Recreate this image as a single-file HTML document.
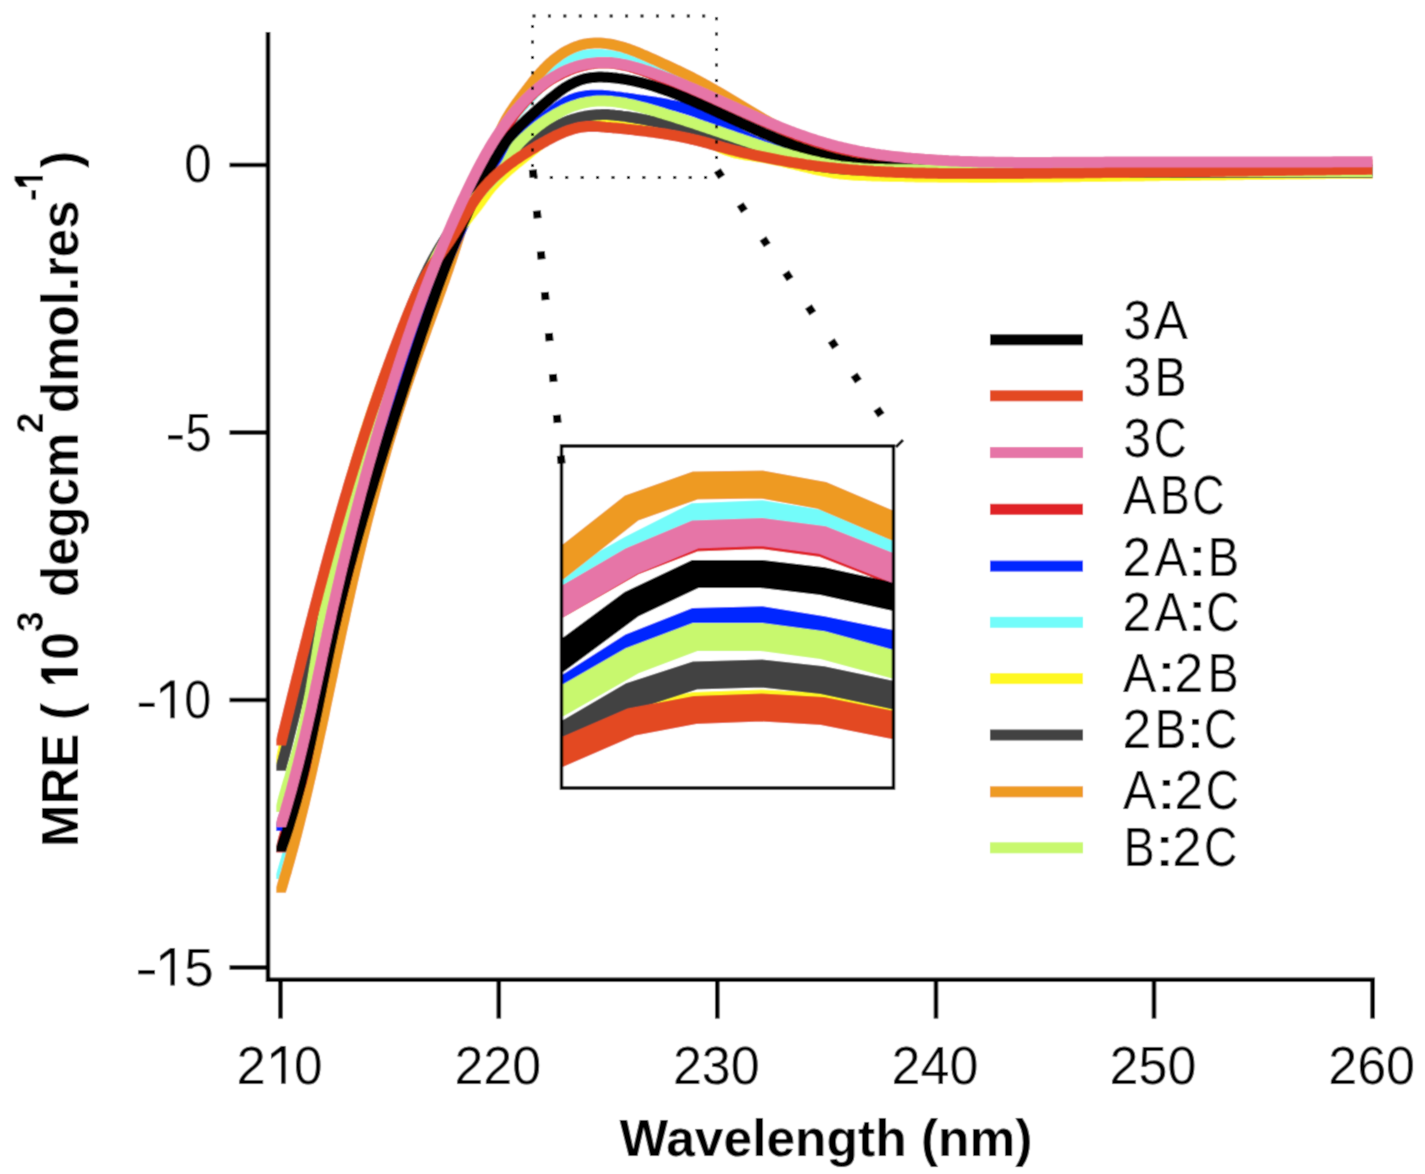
<!DOCTYPE html>
<html><head><meta charset="utf-8"><title>MRE chart</title>
<style>html,body{margin:0;padding:0;background:#fff;}svg{display:block;}text{font-family:"Liberation Sans", sans-serif;}</style>
</head><body>
<svg width="1425" height="1174" viewBox="0 0 1425 1174">
<defs><filter id="soft" filterUnits="userSpaceOnUse" x="0" y="0" width="1425" height="1174"><feConvolveMatrix order="3" kernelMatrix="0.028 0.111 0.028 0.111 0.446 0.111 0.028 0.111 0.028" edgeMode="duplicate" preserveAlpha="true"/></filter><clipPath id="ic"><rect x="563" y="447.5" width="329" height="339"/></clipPath>
<clipPath id="pc"><rect x="270" y="0" width="1110" height="978"/></clipPath></defs>
<g filter="url(#soft)">
<rect width="1425" height="1174" fill="#fff"/>

<defs><clipPath id="c0"><rect x="276.3" y="0" width="1097.2" height="879"/></clipPath><clipPath id="c1"><rect x="276.3" y="0" width="1097.2" height="892.7"/></clipPath><clipPath id="c2"><rect x="276.3" y="0" width="1097.2" height="852.4"/></clipPath><clipPath id="c3"><rect x="276.3" y="0" width="1097.2" height="831"/></clipPath><clipPath id="c4"><rect x="276.3" y="0" width="1097.2" height="764"/></clipPath><clipPath id="c5"><rect x="276.3" y="0" width="1097.2" height="770.7"/></clipPath><clipPath id="c6"><rect x="276.3" y="0" width="1097.2" height="851.8"/></clipPath><clipPath id="c7"><rect x="276.3" y="0" width="1097.2" height="812"/></clipPath><clipPath id="c8"><rect x="276.3" y="0" width="1097.2" height="745.5"/></clipPath><clipPath id="c9"><rect x="276.3" y="0" width="1097.2" height="827"/></clipPath></defs>
<g fill="none" stroke-width="11" stroke-linejoin="round" stroke-linecap="butt">
<path clip-path="url(#c0)" stroke="#73FCFA" d="M278.2,885.8L280.5,878.2L281.3,875.4L282.2,872.7L283.0,870.0L283.8,867.2L284.6,864.5L285.4,861.8L286.3,859.0L287.0,856.3L287.8,853.5L288.6,850.8L289.4,848.1L290.2,845.3L290.9,842.6L291.7,839.8L292.5,837.1L293.2,834.3L294.0,831.6L294.7,828.8L295.4,826.1L296.2,823.3L296.9,820.6L297.6,817.8L298.3,815.1L299.0,812.3L299.8,809.6L300.5,806.8L301.2,804.1L301.8,801.3L302.5,798.5L303.2,795.8L303.9,793.0L304.6,790.2L305.3,787.5L305.9,784.7L306.6,782.0L307.3,779.2L307.9,776.4L308.6,773.7L309.2,770.9L309.9,768.1L310.5,765.3L311.2,762.6L311.8,759.8L312.4,757.0L313.1,754.3L313.7,751.5L314.3,748.7L315.0,745.9L315.6,743.2L316.2,740.4L316.8,737.6L317.5,734.8L318.1,732.1L318.7,729.3L319.3,726.5L319.9,723.7L320.5,721.0L321.1,718.2L321.8,715.4L322.4,712.6L323.0,709.8L323.6,707.1L324.2,704.3L324.8,701.5L325.4,698.7L326.0,695.9L326.6,693.2L327.2,690.4L327.8,687.6L328.4,684.8L329.0,682.0L329.6,679.3L330.2,676.5L330.8,673.7L331.4,670.9L332.0,668.1L332.6,665.3L333.2,662.6L333.8,659.8L334.4,657.0L335.0,654.2L335.6,651.4L336.2,648.6L336.8,645.9L337.4,643.1L338.0,640.3L338.6,637.5L339.2,634.7L339.8,632.0L340.4,629.2L341.0,626.4L341.7,623.6L342.3,620.8L342.9,618.1L343.5,615.3L344.1,612.5L344.8,609.7L345.4,606.9L346.0,604.2L346.6,601.4L347.3,598.6L347.9,595.8L348.6,593.1L349.2,590.3L349.8,587.5L350.5,584.7L351.1,582.0L351.8,579.2L352.4,576.4L353.1,573.6L353.7,570.9L354.4,568.1L355.0,565.3L355.7,562.5L356.4,559.8L357.0,557.0L357.7,554.2L358.4,551.5L359.1,548.7L359.7,545.9L360.4,543.2L361.1,540.4L361.8,537.6L362.5,534.9L363.2,532.1L363.8,529.3L364.5,526.6L365.2,523.8L365.9,521.0L366.6,518.3L367.3,515.5L368.1,512.8L368.8,510.0L369.5,507.2L370.2,504.5L370.9,501.7L371.6,499.0L372.4,496.2L373.1,493.5L373.8,490.7L374.6,487.9L375.3,485.2L376.0,482.4L376.8,479.7L377.5,476.9L378.3,474.2L379.0,471.4L379.8,468.7L380.5,466.0L381.3,463.2L382.1,460.5L382.8,457.7L383.6,455.0L384.4,452.2L385.2,449.5L386.0,446.8L386.7,444.0L387.5,441.3L388.3,438.6L389.1,435.8L389.9,433.1L390.7,430.4L391.5,427.6L392.3,424.9L393.1,422.2L394.0,419.4L394.8,416.7L395.6,414.0L396.4,411.3L397.3,408.5L398.1,405.8L398.9,403.1L399.8,400.4L400.6,397.7L401.5,395.0L402.3,392.2L403.2,389.5L404.0,386.8L404.9,384.1L405.8,381.4L406.6,378.7L407.5,376.0L408.4,373.3L409.3,370.6L410.2,367.9L411.1,365.2L411.9,362.5L412.8,359.8L413.7,357.1L414.7,354.4L415.6,351.7L416.5,349.0L417.4,346.3L418.3,343.6L419.3,340.9L420.2,338.2L421.1,335.5L422.1,332.9L423.0,330.2L424.0,327.5L424.9,324.8L425.9,322.2L426.8,319.5L427.8,316.8L428.8,314.1L429.7,311.5L430.7,308.8L431.7,306.1L432.7,303.5L433.7,300.8L434.7,298.1L435.6,295.5L436.6,292.8L437.6,290.1L438.6,287.5L439.6,284.8L440.6,282.1L441.6,279.5L442.7,276.8L443.7,274.2L444.7,271.5L445.7,268.8L446.7,266.2L447.7,263.5L448.7,260.9L449.8,258.2L450.8,255.6L451.8,252.9L452.8,250.2L453.8,247.6L454.9,244.9L455.9,242.3L456.9,239.6L457.9,237.0L459.0,234.3L460.0,231.6L461.0,229.0L462.1,226.3L463.1,223.7L464.1,221.0L465.1,218.3L466.1,215.7L467.2,213.0L468.2,210.4L469.3,207.7L470.3,205.1L471.4,202.4L472.5,199.8L473.6,197.2L474.7,194.6L475.9,192.0L477.1,189.4L478.3,186.8L479.5,184.3L480.8,181.7L482.2,179.2L483.5,176.7L484.9,174.2L486.2,171.7L487.5,169.2L488.6,166.6L489.7,164.0L490.6,161.3L491.5,158.6L492.2,155.9L493.0,153.2L493.7,150.4L494.5,147.7L495.3,145.0L496.2,142.3L497.2,139.7L498.4,137.1L499.8,134.6L501.2,132.2L502.7,129.8L504.4,127.5L506.1,125.2L507.8,122.9L509.6,120.7L511.5,118.5L513.3,116.4L515.2,114.2L517.1,112.1L518.9,110.0L520.9,107.9L522.8,105.8L524.7,103.7L526.6,101.6L528.6,99.6L530.5,97.5L532.5,95.4L534.4,93.3L536.4,91.2L538.3,89.1L540.3,86.9L542.2,84.8L544.1,82.6L546.1,80.4L548.0,78.2L549.9,76.0L551.9,73.9L553.9,71.8L555.9,69.8L558.0,67.9L560.1,66.1L562.3,64.3L564.6,62.8L566.9,61.3L569.3,60.0L571.8,58.9L574.3,57.9L576.9,57.0L579.6,56.3L582.3,55.7L585.1,55.2L587.8,54.9L590.7,54.6L593.5,54.5L596.4,54.4L599.3,54.5L602.2,54.6L605.1,54.9L608.0,55.2L610.9,55.6L613.8,56.1L616.7,56.7L619.6,57.3L622.5,58.0L625.3,58.8L628.1,59.6L630.9,60.5L633.6,61.4L636.3,62.3L639.0,63.3L641.6,64.3L644.2,65.4L646.8,66.5L649.4,67.6L651.9,68.7L654.5,69.9L657.0,71.0L659.5,72.2L662.1,73.4L664.6,74.5L667.1,75.7L669.7,76.8L672.2,78.0L674.8,79.1L677.4,80.3L679.9,81.4L682.6,82.5L685.2,83.6L687.8,84.7L690.4,85.8L693.0,86.9L695.6,88.0L698.3,89.2L700.9,90.3L703.5,91.5L706.1,92.7L708.7,93.9L711.2,95.1L713.8,96.4L716.4,97.6L718.9,98.9L721.5,100.2L724.1,101.5L726.6,102.8L729.2,104.1L731.7,105.4L734.3,106.8L736.8,108.1L739.3,109.4L741.9,110.8L744.4,112.1L747.0,113.4L749.5,114.8L752.0,116.1L754.6,117.5L757.1,118.8L759.7,120.1L762.2,121.4L764.8,122.7L767.3,124.0L769.9,125.3L772.4,126.6L775.0,127.9L777.5,129.1L780.1,130.3L782.7,131.6L785.3,132.8L787.9,133.9L790.5,135.1L793.1,136.3L795.7,137.4L798.3,138.5L800.9,139.6L803.6,140.6L806.2,141.6L808.9,142.6L811.5,143.6L814.2,144.5L816.9,145.5L819.6,146.4L822.2,147.2L825.0,148.1L827.7,148.9L830.4,149.7L833.1,150.5L835.8,151.2L838.6,151.9L841.3,152.7L844.1,153.3L846.8,154.0L849.6,154.7L852.4,155.3L855.2,155.9L857.9,156.5L860.7,157.1L863.5,157.6L866.3,158.1L869.1,158.7L871.9,159.2L874.7,159.6L877.5,160.1L880.3,160.6L883.2,161.0L886.0,161.4L888.8,161.8L891.6,162.2L894.5,162.6L897.3,163.0L900.1,163.3L902.9,163.7L905.8,164.0L908.6,164.3L911.4,164.6L914.3,164.9L917.1,165.2L920.0,165.5L922.8,165.8L925.6,166.0L928.5,166.3L931.3,166.5L934.1,166.7L937.0,167.0L939.8,167.2L942.7,167.4L945.5,167.6L948.3,167.8L951.2,168.0L954.0,168.2L956.9,168.3L959.7,168.5L962.5,168.6L965.4,168.8L968.2,168.9L971.1,169.1L973.9,169.2L976.7,169.3L979.6,169.5L982.4,169.6L985.3,169.7L988.1,169.8L991.0,169.9L993.8,170.0L996.6,170.1L999.5,170.2L1002.3,170.3L1005.2,170.3L1008.0,170.4L1010.9,170.5L1013.7,170.5L1016.6,170.6L1019.4,170.7L1022.3,170.7L1025.1,170.8L1028.0,170.8L1030.8,170.9L1033.6,170.9L1036.5,171.0L1039.3,171.0L1042.2,171.0L1045.0,171.1L1047.9,171.1L1050.7,171.1L1053.6,171.1L1056.4,171.2L1059.3,171.2L1062.1,171.2L1065.0,171.2L1067.8,171.2L1070.7,171.2L1073.5,171.2L1076.4,171.3L1079.2,171.3L1082.1,171.3L1084.9,171.3L1087.8,171.3L1090.6,171.3L1093.5,171.3L1096.3,171.3L1099.1,171.3L1102.0,171.3L1104.8,171.3L1107.7,171.3L1110.5,171.3L1113.4,171.3L1116.2,171.3L1119.1,171.3L1121.9,171.3L1124.8,171.3L1127.6,171.3L1130.5,171.3L1133.3,171.3L1136.2,171.3L1139.0,171.3L1141.9,171.3L1144.7,171.3L1147.6,171.3L1150.4,171.3L1153.3,171.3L1156.1,171.3L1159.0,171.3L1161.8,171.3L1164.6,171.3L1167.5,171.3L1170.3,171.4L1173.2,171.4L1176.0,171.4L1178.9,171.4L1181.7,171.4L1184.6,171.4L1187.4,171.4L1190.3,171.4L1193.1,171.4L1196.0,171.4L1198.8,171.4L1201.7,171.4L1204.5,171.4L1207.4,171.4L1210.2,171.4L1213.0,171.4L1215.9,171.4L1218.7,171.4L1221.6,171.4L1224.4,171.4L1227.3,171.4L1230.1,171.4L1233.0,171.4L1235.8,171.4L1238.7,171.4L1241.5,171.4L1244.4,171.4L1247.2,171.4L1250.1,171.4L1252.9,171.4L1255.8,171.4L1258.6,171.4L1261.4,171.4L1264.3,171.4L1267.1,171.4L1270.0,171.4L1272.8,171.4L1275.7,171.5L1278.5,171.5L1281.4,171.5L1284.2,171.5L1287.1,171.5L1289.9,171.5L1292.8,171.5L1295.6,171.5L1298.5,171.5L1301.3,171.5L1304.2,171.5L1307.0,171.5L1309.9,171.5L1312.7,171.5L1315.5,171.5L1318.4,171.5L1321.2,171.5L1324.1,171.5L1326.9,171.5L1329.8,171.5L1332.6,171.5L1335.5,171.4L1338.3,171.4L1341.2,171.4L1344.0,171.4L1346.9,171.4L1349.7,171.4L1352.6,171.4L1355.4,171.4L1358.3,171.4L1361.1,171.4L1364.0,171.4L1366.8,171.4L1369.7,171.4L1372.5,171.4"/>
<path clip-path="url(#c1)" stroke="#EE9A22" d="M278.2,899.2L280.5,891.5L281.3,888.8L282.2,886.0L283.0,883.2L283.8,880.4L284.6,877.6L285.4,874.9L286.3,872.1L287.0,869.3L287.8,866.5L288.6,863.7L289.4,860.9L290.2,858.1L290.9,855.4L291.7,852.6L292.5,849.8L293.2,847.0L294.0,844.2L294.7,841.4L295.4,838.6L296.2,835.8L296.9,833.0L297.6,830.2L298.3,827.4L299.0,824.6L299.7,821.8L300.4,819.0L301.1,816.2L301.8,813.4L302.5,810.6L303.2,807.7L303.9,804.9L304.6,802.1L305.2,799.3L305.9,796.5L306.6,793.7L307.2,790.9L307.9,788.1L308.5,785.2L309.2,782.4L309.8,779.6L310.5,776.8L311.1,774.0L311.8,771.2L312.4,768.3L313.0,765.5L313.7,762.7L314.3,759.9L314.9,757.1L315.5,754.2L316.2,751.4L316.8,748.6L317.4,745.8L318.0,742.9L318.6,740.1L319.2,737.3L319.8,734.5L320.4,731.6L321.1,728.8L321.7,726.0L322.3,723.2L322.9,720.3L323.5,717.5L324.1,714.7L324.7,711.8L325.2,709.0L325.8,706.2L326.4,703.4L327.0,700.5L327.6,697.7L328.2,694.9L328.8,692.0L329.4,689.2L330.0,686.4L330.6,683.5L331.2,680.7L331.8,677.9L332.4,675.1L333.0,672.2L333.5,669.4L334.1,666.6L334.7,663.7L335.3,660.9L335.9,658.1L336.5,655.2L337.1,652.4L337.7,649.6L338.3,646.8L338.9,643.9L339.5,641.1L340.1,638.3L340.7,635.4L341.3,632.6L341.9,629.8L342.5,627.0L343.1,624.1L343.8,621.3L344.4,618.5L345.0,615.6L345.6,612.8L346.2,610.0L346.8,607.2L347.5,604.3L348.1,601.5L348.7,598.7L349.4,595.9L350.0,593.0L350.6,590.2L351.3,587.4L351.9,584.6L352.5,581.8L353.2,578.9L353.8,576.1L354.5,573.3L355.1,570.5L355.8,567.7L356.5,564.9L357.1,562.0L357.8,559.2L358.5,556.4L359.1,553.6L359.8,550.8L360.5,548.0L361.2,545.2L361.8,542.3L362.5,539.5L363.2,536.7L363.9,533.9L364.6,531.1L365.3,528.3L366.0,525.5L366.7,522.7L367.4,519.9L368.1,517.1L368.9,514.3L369.6,511.5L370.3,508.7L371.0,505.9L371.8,503.1L372.5,500.3L373.2,497.5L374.0,494.7L374.7,491.9L375.5,489.1L376.2,486.3L377.0,483.5L377.7,480.7L378.5,477.9L379.3,475.2L380.0,472.4L380.8,469.6L381.6,466.8L382.4,464.0L383.2,461.2L384.0,458.5L384.8,455.7L385.6,452.9L386.4,450.1L387.2,447.4L388.0,444.6L388.8,441.8L389.7,439.0L390.5,436.3L391.3,433.5L392.2,430.7L393.0,428.0L393.9,425.2L394.7,422.5L395.6,419.7L396.5,416.9L397.3,414.2L398.2,411.4L399.1,408.7L400.0,405.9L400.9,403.2L401.7,400.4L402.6,397.7L403.6,394.9L404.5,392.2L405.4,389.4L406.3,386.7L407.2,384.0L408.2,381.2L409.1,378.5L410.0,375.8L411.0,373.0L411.9,370.3L412.9,367.6L413.9,364.8L414.8,362.1L415.8,359.4L416.8,356.7L417.8,353.9L418.7,351.2L419.7,348.5L420.7,345.8L421.7,343.1L422.7,340.3L423.7,337.6L424.7,334.9L425.7,332.2L426.6,329.5L427.6,326.7L428.6,324.0L429.6,321.3L430.6,318.6L431.6,315.9L432.6,313.2L433.6,310.4L434.6,307.7L435.6,305.0L436.6,302.3L437.6,299.6L438.5,296.8L439.5,294.1L440.5,291.4L441.5,288.7L442.4,285.9L443.4,283.2L444.4,280.5L445.3,277.8L446.3,275.0L447.2,272.3L448.2,269.6L449.1,266.8L450.0,264.1L451.0,261.3L451.9,258.6L452.8,255.8L453.7,253.1L454.6,250.3L455.5,247.6L456.4,244.8L457.2,242.1L458.1,239.3L459.0,236.6L459.8,233.8L460.7,231.0L461.5,228.3L462.3,225.5L463.1,222.7L463.9,219.9L464.7,217.1L465.5,214.4L466.4,211.6L467.2,208.8L468.0,206.1L468.9,203.3L469.8,200.6L470.8,197.8L471.7,195.1L472.8,192.5L473.9,189.8L475.0,187.1L476.2,184.5L477.5,181.9L478.8,179.3L480.1,176.8L481.4,174.2L482.8,171.6L484.1,169.1L485.4,166.5L486.6,163.9L487.9,161.2L489.0,158.6L490.2,155.9L491.3,153.2L492.4,150.5L493.5,147.9L494.5,145.2L495.6,142.5L496.7,139.8L497.8,137.1L498.9,134.5L500.0,131.8L501.2,129.2L502.4,126.6L503.7,124.0L505.0,121.5L506.3,119.0L507.8,116.5L509.3,114.1L510.8,111.6L512.4,109.3L514.0,106.9L515.7,104.5L517.3,102.2L519.0,99.9L520.8,97.6L522.5,95.3L524.3,93.0L526.0,90.7L527.8,88.4L529.5,86.1L531.3,83.8L533.1,81.5L534.9,79.3L536.7,77.0L538.6,74.8L540.5,72.6L542.5,70.5L544.5,68.3L546.5,66.3L548.6,64.3L550.7,62.3L552.9,60.4L555.2,58.6L557.5,56.8L559.8,55.1L562.2,53.5L564.6,52.0L567.1,50.6L569.7,49.3L572.2,48.1L574.9,47.0L577.5,46.1L580.2,45.2L583.0,44.5L585.8,43.9L588.7,43.5L591.6,43.2L594.5,43.1L597.4,43.0L600.4,43.1L603.3,43.3L606.3,43.6L609.2,44.0L612.1,44.5L614.9,45.1L617.8,45.8L620.6,46.5L623.4,47.3L626.1,48.2L628.9,49.1L631.6,50.1L634.3,51.2L637.0,52.2L639.7,53.3L642.4,54.5L645.1,55.6L647.7,56.8L650.4,58.0L653.0,59.1L655.7,60.3L658.3,61.5L660.9,62.7L663.5,63.9L666.1,65.1L668.7,66.3L671.3,67.5L673.9,68.7L676.5,69.9L679.1,71.1L681.7,72.4L684.2,73.6L686.8,74.9L689.4,76.2L691.9,77.5L694.5,78.8L697.0,80.1L699.5,81.5L702.1,82.8L704.6,84.2L707.1,85.6L709.6,87.0L712.2,88.5L714.7,89.9L717.2,91.4L719.7,92.8L722.2,94.3L724.7,95.8L727.2,97.3L729.7,98.8L732.2,100.3L734.7,101.8L737.2,103.3L739.7,104.8L742.2,106.3L744.7,107.8L747.2,109.3L749.7,110.8L752.2,112.3L754.7,113.8L757.2,115.3L759.8,116.8L762.3,118.3L764.8,119.7L767.4,121.1L769.9,122.6L772.4,124.0L775.0,125.4L777.6,126.8L780.1,128.1L782.7,129.5L785.3,130.8L787.9,132.1L790.5,133.3L793.1,134.6L795.7,135.8L798.3,137.0L801.0,138.2L803.6,139.3L806.3,140.4L809.0,141.5L811.6,142.5L814.3,143.5L817.0,144.5L819.8,145.5L822.5,146.4L825.2,147.3L828.0,148.2L830.7,149.0L833.5,149.9L836.2,150.7L839.0,151.4L841.8,152.2L844.6,152.9L847.4,153.6L850.2,154.3L853.0,155.0L855.8,155.6L858.6,156.3L861.5,156.9L864.3,157.4L867.1,158.0L870.0,158.6L872.8,159.1L875.7,159.6L878.5,160.1L881.4,160.6L884.2,161.1L887.1,161.5L889.9,162.0L892.8,162.4L895.7,162.8L898.5,163.2L901.4,163.6L904.3,164.0L907.1,164.4L910.0,164.8L912.9,165.1L915.8,165.4L918.6,165.8L921.5,166.1L924.4,166.4L927.3,166.7L930.1,167.0L933.0,167.3L935.9,167.5L938.8,167.8L941.7,168.0L944.5,168.3L947.4,168.5L950.3,168.7L953.2,168.9L956.1,169.1L959.0,169.3L961.9,169.5L964.7,169.7L967.6,169.9L970.5,170.0L973.4,170.2L976.3,170.3L979.2,170.4L982.1,170.6L984.9,170.7L987.8,170.8L990.7,170.9L993.6,171.0L996.5,171.1L999.4,171.2L1002.3,171.3L1005.2,171.4L1008.1,171.5L1011.0,171.5L1013.8,171.6L1016.7,171.7L1019.6,171.7L1022.5,171.8L1025.4,171.8L1028.3,171.9L1031.2,171.9L1034.1,171.9L1037.0,172.0L1039.9,172.0L1042.8,172.0L1045.7,172.1L1048.5,172.1L1051.4,172.1L1054.3,172.1L1057.2,172.1L1060.1,172.2L1063.0,172.2L1065.9,172.2L1068.8,172.2L1071.7,172.2L1074.6,172.2L1077.5,172.2L1080.4,172.2L1083.3,172.2L1086.2,172.2L1089.0,172.2L1091.9,172.2L1094.8,172.2L1097.7,172.3L1100.6,172.3L1103.5,172.3L1106.4,172.3L1109.3,172.3L1112.2,172.3L1115.1,172.3L1118.0,172.3L1120.9,172.3L1123.8,172.3L1126.7,172.3L1129.5,172.3L1132.4,172.4L1135.3,172.4L1138.2,172.4L1141.1,172.4L1144.0,172.4L1146.9,172.4L1149.8,172.4L1152.7,172.4L1155.6,172.4L1158.5,172.5L1161.4,172.5L1164.3,172.5L1167.1,172.5L1170.0,172.5L1172.9,172.5L1175.8,172.5L1178.7,172.5L1181.6,172.6L1184.5,172.6L1187.4,172.6L1190.3,172.6L1193.2,172.6L1196.1,172.6L1199.0,172.6L1201.9,172.6L1204.7,172.6L1207.6,172.7L1210.5,172.7L1213.4,172.7L1216.3,172.7L1219.2,172.7L1222.1,172.7L1225.0,172.7L1227.9,172.7L1230.8,172.8L1233.7,172.8L1236.6,172.8L1239.5,172.8L1242.3,172.8L1245.2,172.8L1248.1,172.8L1251.0,172.8L1253.9,172.8L1256.8,172.9L1259.7,172.9L1262.6,172.9L1265.5,172.9L1268.4,172.9L1271.3,172.9L1274.2,172.9L1277.0,172.9L1279.9,172.9L1282.8,172.9L1285.7,172.9L1288.6,173.0L1291.5,173.0L1294.4,173.0L1297.3,173.0L1300.2,173.0L1303.1,173.0L1306.0,173.0L1308.9,173.0L1311.8,173.0L1314.6,173.0L1317.5,173.0L1320.4,173.0L1323.3,173.0L1326.2,173.0L1329.1,173.0L1332.0,173.0L1334.9,173.0L1337.8,173.0L1340.7,173.0L1343.6,173.0L1346.5,173.0L1349.4,173.0L1352.3,173.0L1355.1,173.0L1358.0,173.0L1360.9,173.0L1363.8,173.0L1366.7,173.0L1369.6,173.0L1372.5,173.0"/>
<path clip-path="url(#c2)" stroke="#E02327" d="M278.7,859.2L280.5,851.4L281.1,848.7L281.7,846.0L282.4,843.3L283.1,840.6L283.8,837.9L284.5,835.2L285.3,832.5L286.1,829.9L286.9,827.2L287.8,824.5L288.6,821.9L289.5,819.2L290.4,816.6L291.3,813.9L292.2,811.2L293.0,808.6L293.9,805.9L294.8,803.3L295.7,800.6L296.6,798.0L297.4,795.3L298.3,792.6L299.1,790.0L299.9,787.3L300.7,784.6L301.5,782.0L302.2,779.3L302.9,776.6L303.6,773.9L304.2,771.2L304.9,768.5L305.5,765.7L306.0,763.0L306.6,760.3L307.1,757.6L307.7,754.9L308.2,752.1L308.7,749.4L309.2,746.7L309.7,743.9L310.2,741.2L310.7,738.4L311.2,735.7L311.8,733.0L312.3,730.2L312.8,727.5L313.3,724.8L313.8,722.0L314.4,719.3L314.9,716.6L315.4,713.9L316.0,711.1L316.5,708.4L317.1,705.7L317.6,702.9L318.2,700.2L318.7,697.5L319.3,694.8L319.9,692.0L320.4,689.3L321.0,686.6L321.6,683.8L322.1,681.1L322.7,678.4L323.3,675.7L323.9,673.0L324.5,670.2L325.1,667.5L325.7,664.8L326.3,662.1L326.9,659.3L327.5,656.6L328.1,653.9L328.7,651.2L329.3,648.5L329.9,645.8L330.5,643.0L331.1,640.3L331.8,637.6L332.4,634.9L333.0,632.2L333.6,629.5L334.3,626.7L334.9,624.0L335.6,621.3L336.2,618.6L336.9,615.9L337.5,613.2L338.2,610.5L338.8,607.8L339.5,605.1L340.1,602.3L340.8,599.6L341.5,596.9L342.1,594.2L342.8,591.5L343.5,588.8L344.1,586.1L344.8,583.4L345.5,580.7L346.2,578.0L346.9,575.3L347.6,572.6L348.3,569.9L348.9,567.2L349.6,564.5L350.3,561.8L351.0,559.1L351.7,556.4L352.5,553.7L353.2,551.0L353.9,548.3L354.6,545.6L355.3,542.9L356.0,540.2L356.7,537.5L357.5,534.8L358.2,532.1L358.9,529.4L359.6,526.7L360.4,524.1L361.1,521.4L361.8,518.7L362.6,516.0L363.3,513.3L364.1,510.6L364.8,507.9L365.6,505.2L366.3,502.5L367.1,499.9L367.8,497.2L368.6,494.5L369.3,491.8L370.1,489.1L370.9,486.4L371.6,483.8L372.4,481.1L373.2,478.4L373.9,475.7L374.7,473.0L375.5,470.4L376.3,467.7L377.0,465.0L377.8,462.3L378.6,459.6L379.4,457.0L380.2,454.3L381.0,451.6L381.8,449.0L382.5,446.3L383.3,443.6L384.1,440.9L384.9,438.3L385.7,435.6L386.5,432.9L387.3,430.3L388.1,427.6L388.9,424.9L389.8,422.3L390.6,419.6L391.4,416.9L392.2,414.3L393.0,411.6L393.8,408.9L394.6,406.3L395.5,403.6L396.3,400.9L397.1,398.3L397.9,395.6L398.8,393.0L399.6,390.3L400.4,387.7L401.2,385.0L402.1,382.3L402.9,379.7L403.7,377.0L404.6,374.4L405.4,371.7L406.3,369.1L407.1,366.4L408.0,363.8L408.8,361.1L409.6,358.5L410.5,355.8L411.4,353.2L412.2,350.5L413.1,347.9L413.9,345.2L414.8,342.6L415.7,339.9L416.5,337.3L417.4,334.7L418.3,332.0L419.1,329.4L420.0,326.7L420.9,324.1L421.8,321.5L422.7,318.8L423.6,316.2L424.5,313.6L425.4,310.9L426.3,308.3L427.2,305.7L428.1,303.1L429.0,300.4L429.9,297.8L430.9,295.2L431.8,292.6L432.7,290.0L433.7,287.3L434.6,284.7L435.5,282.1L436.5,279.5L437.4,276.9L438.4,274.3L439.4,271.7L440.3,269.1L441.3,266.5L442.3,263.8L443.3,261.2L444.3,258.6L445.3,256.0L446.3,253.4L447.3,250.9L448.3,248.3L449.3,245.7L450.3,243.1L451.4,240.5L452.4,237.9L453.4,235.3L454.5,232.7L455.5,230.2L456.6,227.6L457.7,225.0L458.7,222.4L459.8,219.9L460.9,217.3L462.0,214.7L463.1,212.2L464.2,209.6L465.3,207.0L466.4,204.5L467.6,201.9L468.7,199.4L469.8,196.8L471.0,194.3L472.2,191.7L473.3,189.2L474.5,186.6L475.7,184.1L476.9,181.5L478.1,179.0L479.3,176.5L480.5,173.9L481.7,171.4L482.9,168.9L484.2,166.3L485.4,163.8L486.7,161.3L487.9,158.8L489.2,156.3L490.5,153.8L491.8,151.3L493.1,148.8L494.4,146.3L495.8,143.9L497.1,141.4L498.5,139.0L499.9,136.5L501.3,134.1L502.8,131.8L504.3,129.4L505.7,127.0L507.3,124.7L508.8,122.4L510.4,120.1L512.0,117.8L513.6,115.6L515.2,113.4L516.9,111.2L518.7,109.1L520.4,106.9L522.2,104.9L524.0,102.8L525.9,100.8L527.8,98.8L529.7,96.8L531.7,94.9L533.7,93.0L535.7,91.2L537.8,89.4L540.0,87.6L542.2,85.9L544.4,84.2L546.7,82.6L549.0,81.0L551.3,79.5L553.7,78.0L556.2,76.6L558.6,75.3L561.1,74.0L563.7,72.7L566.2,71.6L568.8,70.4L571.4,69.4L574.0,68.4L576.7,67.5L579.3,66.7L582.0,65.9L584.7,65.3L587.4,64.7L590.1,64.2L592.9,63.7L595.6,63.4L598.4,63.1L601.1,63.0L603.8,62.9L606.6,63.0L609.3,63.1L612.1,63.3L614.8,63.6L617.5,64.0L620.2,64.5L622.9,65.0L625.7,65.6L628.4,66.3L631.1,67.1L633.8,67.8L636.5,68.7L639.1,69.5L641.8,70.4L644.5,71.3L647.2,72.2L649.8,73.2L652.5,74.1L655.1,75.1L657.8,76.1L660.4,77.0L663.1,78.0L665.7,79.0L668.3,80.0L670.9,81.0L673.5,82.0L676.1,83.0L678.7,84.0L681.3,85.0L683.9,86.1L686.4,87.1L689.0,88.2L691.5,89.2L694.1,90.3L696.6,91.4L699.2,92.5L701.7,93.6L704.2,94.7L706.8,95.8L709.3,96.9L711.8,98.0L714.3,99.1L716.9,100.2L719.4,101.4L721.9,102.5L724.4,103.6L726.9,104.8L729.5,105.9L732.0,107.1L734.5,108.2L737.0,109.4L739.6,110.5L742.1,111.6L744.6,112.8L747.2,113.9L749.7,115.1L752.2,116.2L754.8,117.4L757.3,118.5L759.9,119.6L762.4,120.7L765.0,121.9L767.6,123.0L770.2,124.1L772.7,125.2L775.3,126.3L777.9,127.3L780.5,128.4L783.1,129.5L785.7,130.5L788.3,131.6L790.9,132.6L793.5,133.6L796.1,134.6L798.7,135.6L801.4,136.5L804.0,137.5L806.6,138.4L809.3,139.3L811.9,140.2L814.6,141.1L817.2,142.0L819.9,142.8L822.6,143.6L825.2,144.4L827.9,145.2L830.6,146.0L833.3,146.7L836.0,147.4L838.7,148.1L841.4,148.7L844.1,149.4L846.8,150.0L849.5,150.5L852.2,151.1L855.0,151.6L857.7,152.1L860.4,152.6L863.2,153.1L865.9,153.6L868.7,154.0L871.4,154.4L874.2,154.8L876.9,155.2L879.7,155.6L882.4,155.9L885.2,156.3L888.0,156.6L890.7,157.0L893.5,157.3L896.3,157.6L899.1,157.9L901.8,158.2L904.6,158.5L907.4,158.8L910.1,159.0L912.9,159.3L915.7,159.6L918.5,159.9L921.2,160.1L924.0,160.4L926.8,160.7L929.6,160.9L932.4,161.2L935.1,161.4L937.9,161.7L940.7,161.9L943.5,162.1L946.2,162.4L949.0,162.6L951.8,162.8L954.6,163.0L957.3,163.2L960.1,163.4L962.9,163.6L965.7,163.7L968.5,163.9L971.3,164.1L974.0,164.2L976.8,164.3L979.6,164.4L982.4,164.5L985.2,164.6L987.9,164.7L990.7,164.8L993.5,164.9L996.3,164.9L999.1,165.0L1001.9,165.0L1004.7,165.0L1007.4,165.1L1010.2,165.1L1013.0,165.1L1015.8,165.1L1018.6,165.1L1021.4,165.1L1024.2,165.1L1027.0,165.1L1029.7,165.1L1032.5,165.1L1035.3,165.1L1038.1,165.0L1040.9,165.0L1043.7,165.0L1046.5,165.0L1049.3,165.0L1052.0,165.0L1054.8,165.0L1057.6,165.0L1060.4,165.0L1063.2,165.0L1066.0,165.0L1068.8,165.0L1071.6,165.0L1074.3,165.0L1077.1,165.0L1079.9,165.0L1082.7,165.0L1085.5,165.0L1088.3,165.0L1091.1,165.0L1093.8,165.0L1096.6,165.0L1099.4,165.0L1102.2,165.0L1105.0,165.0L1107.8,165.0L1110.6,165.0L1113.3,165.0L1116.1,165.0L1118.9,165.0L1121.7,165.0L1124.5,165.0L1127.3,165.0L1130.1,165.0L1132.9,165.0L1135.6,165.0L1138.4,165.0L1141.2,165.0L1144.0,165.0L1146.8,165.0L1149.6,165.0L1152.4,165.0L1155.1,165.0L1157.9,165.0L1160.7,165.0L1163.5,165.0L1166.3,165.0L1169.1,165.0L1171.9,165.0L1174.6,165.0L1177.4,165.0L1180.2,165.0L1183.0,165.0L1185.8,165.0L1188.6,165.0L1191.4,165.0L1194.2,165.0L1196.9,165.0L1199.7,165.0L1202.5,165.0L1205.3,165.0L1208.1,165.0L1210.9,165.0L1213.7,165.0L1216.4,165.0L1219.2,165.0L1222.0,165.0L1224.8,165.0L1227.6,165.0L1230.4,165.0L1233.2,165.0L1236.0,165.0L1238.7,165.0L1241.5,165.0L1244.3,165.0L1247.1,165.0L1249.9,165.0L1252.7,165.0L1255.5,165.0L1258.2,165.0L1261.0,165.0L1263.8,165.0L1266.6,165.0L1269.4,165.0L1272.2,165.0L1275.0,165.0L1277.8,165.0L1280.5,165.0L1283.3,165.0L1286.1,165.0L1288.9,165.0L1291.7,165.0L1294.5,165.0L1297.3,165.0L1300.0,165.0L1302.8,165.0L1305.6,165.0L1308.4,165.0L1311.2,165.0L1314.0,165.0L1316.8,165.0L1319.6,165.0L1322.3,165.0L1325.1,165.0L1327.9,165.0L1330.7,165.0L1333.5,165.0L1336.3,165.0L1339.1,165.0L1341.8,165.0L1344.6,165.0L1347.4,165.0L1350.2,165.0L1353.0,165.0L1355.8,165.0L1358.6,165.0L1361.4,165.0L1364.1,165.0L1366.9,165.0L1369.7,165.0L1372.5,165.0"/>
<path clip-path="url(#c3)" stroke="#0026FF" d="M278.7,837.8L280.5,830.0L281.0,827.4L281.6,824.7L282.3,822.1L283.0,819.5L283.8,817.0L284.7,814.4L285.6,811.9L286.6,809.3L287.6,806.8L288.6,804.3L289.7,801.8L290.8,799.3L291.9,796.8L293.0,794.3L294.1,791.8L295.1,789.3L296.2,786.8L297.3,784.3L298.3,781.8L299.3,779.3L300.3,776.8L301.2,774.2L302.1,771.7L302.9,769.1L303.6,766.5L304.3,763.9L305.0,761.3L305.6,758.7L306.1,756.0L306.7,753.4L307.2,750.7L307.7,748.1L308.2,745.4L308.7,742.8L309.2,740.1L309.7,737.4L310.1,734.8L310.6,732.1L311.1,729.5L311.6,726.8L312.1,724.2L312.6,721.5L313.1,718.9L313.6,716.2L314.2,713.6L314.7,710.9L315.2,708.3L315.7,705.6L316.3,703.0L316.8,700.3L317.3,697.7L317.9,695.0L318.4,692.4L319.0,689.8L319.5,687.1L320.1,684.5L320.6,681.8L321.2,679.2L321.8,676.6L322.3,673.9L322.9,671.3L323.5,668.6L324.0,666.0L324.6,663.4L325.2,660.7L325.8,658.1L326.4,655.5L327.0,652.9L327.6,650.2L328.2,647.6L328.8,645.0L329.4,642.3L330.0,639.7L330.6,637.1L331.2,634.5L331.9,631.8L332.5,629.2L333.1,626.6L333.7,624.0L334.4,621.4L335.0,618.7L335.6,616.1L336.3,613.5L336.9,610.9L337.6,608.3L338.2,605.7L338.9,603.0L339.5,600.4L340.2,597.8L340.8,595.2L341.5,592.6L342.2,590.0L342.8,587.4L343.5,584.7L344.2,582.1L344.9,579.5L345.6,576.9L346.2,574.3L346.9,571.7L347.6,569.1L348.3,566.5L349.0,563.9L349.7,561.3L350.4,558.7L351.1,556.1L351.8,553.5L352.5,550.9L353.2,548.3L353.9,545.7L354.6,543.1L355.4,540.5L356.1,537.9L356.8,535.3L357.5,532.7L358.3,530.1L359.0,527.5L359.7,524.9L360.4,522.3L361.2,519.7L361.9,517.1L362.7,514.5L363.4,511.9L364.2,509.3L364.9,506.7L365.7,504.1L366.4,501.6L367.2,499.0L367.9,496.4L368.7,493.8L369.4,491.2L370.2,488.6L371.0,486.0L371.7,483.4L372.5,480.8L373.3,478.3L374.0,475.7L374.8,473.1L375.6,470.5L376.4,467.9L377.2,465.3L377.9,462.7L378.7,460.2L379.5,457.6L380.3,455.0L381.1,452.4L381.9,449.8L382.7,447.3L383.5,444.7L384.3,442.1L385.1,439.5L385.9,436.9L386.7,434.4L387.5,431.8L388.3,429.2L389.1,426.6L389.9,424.0L390.7,421.5L391.6,418.9L392.4,416.3L393.2,413.7L394.0,411.2L394.8,408.6L395.7,406.0L396.5,403.4L397.3,400.9L398.1,398.3L399.0,395.7L399.8,393.1L400.6,390.6L401.5,388.0L402.3,385.4L403.1,382.9L404.0,380.3L404.8,377.7L405.7,375.1L406.5,372.6L407.3,370.0L408.2,367.4L409.0,364.9L409.9,362.3L410.7,359.7L411.6,357.2L412.5,354.6L413.3,352.0L414.2,349.5L415.1,346.9L415.9,344.3L416.8,341.8L417.7,339.2L418.6,336.7L419.4,334.1L420.3,331.6L421.2,329.0L422.1,326.4L423.0,323.9L423.9,321.4L424.8,318.8L425.7,316.3L426.6,313.7L427.6,311.2L428.5,308.6L429.4,306.1L430.4,303.6L431.3,301.0L432.3,298.5L433.2,296.0L434.2,293.5L435.1,290.9L436.1,288.4L437.1,285.9L438.1,283.4L439.0,280.9L440.0,278.4L441.0,275.9L442.0,273.4L443.1,270.9L444.1,268.4L445.1,265.9L446.2,263.4L447.2,260.9L448.2,258.4L449.3,255.9L450.4,253.5L451.4,251.0L452.5,248.5L453.6,246.1L454.7,243.6L455.8,241.1L456.9,238.7L458.1,236.2L459.2,233.8L460.3,231.3L461.5,228.9L462.6,226.5L463.8,224.1L465.0,221.6L466.2,219.2L467.4,216.8L468.6,214.4L469.8,212.0L471.0,209.6L472.3,207.2L473.5,204.8L474.8,202.4L476.0,200.0L477.3,197.7L478.6,195.3L479.9,192.9L481.2,190.6L482.5,188.2L483.9,185.9L485.2,183.5L486.6,181.2L488.0,178.8L489.3,176.5L490.7,174.2L492.1,171.9L493.6,169.6L495.0,167.3L496.4,165.0L497.9,162.7L499.3,160.4L500.8,158.1L502.4,155.9L503.9,153.7L505.5,151.5L507.1,149.4L508.8,147.3L510.5,145.3L512.2,143.3L514.0,141.4L515.9,139.5L517.9,137.8L519.9,136.1L521.9,134.4L524.0,132.8L526.1,131.2L528.3,129.7L530.5,128.2L532.8,126.6L535.0,125.1L537.2,123.5L539.5,121.9L541.7,120.2L544.0,118.4L546.2,116.6L548.4,114.8L550.6,113.0L552.8,111.2L555.1,109.4L557.3,107.7L559.6,106.0L561.8,104.5L564.1,103.0L566.5,101.7L568.8,100.6L571.2,99.5L573.7,98.6L576.1,97.8L578.6,97.2L581.1,96.6L583.6,96.1L586.2,95.8L588.7,95.5L591.3,95.3L593.9,95.2L596.5,95.2L599.2,95.2L601.8,95.3L604.5,95.5L607.2,95.7L609.9,96.0L612.6,96.2L615.3,96.6L618.0,96.9L620.7,97.3L623.4,97.7L626.2,98.0L628.9,98.4L631.6,98.8L634.3,99.2L637.1,99.6L639.8,100.0L642.5,100.3L645.2,100.7L648.0,101.1L650.7,101.5L653.4,101.9L656.1,102.3L658.8,102.8L661.4,103.2L664.1,103.7L666.8,104.2L669.4,104.8L672.1,105.3L674.7,105.9L677.3,106.5L679.9,107.2L682.5,107.9L685.1,108.6L687.6,109.4L690.2,110.2L692.7,111.0L695.2,111.9L697.7,112.9L700.1,113.9L702.6,115.0L705.0,116.1L707.4,117.2L709.8,118.4L712.2,119.7L714.6,120.9L716.9,122.2L719.3,123.5L721.7,124.8L724.0,126.1L726.4,127.4L728.8,128.7L731.2,129.9L733.6,131.2L736.0,132.4L738.4,133.7L740.8,134.9L743.2,136.1L745.7,137.3L748.1,138.4L750.6,139.5L753.0,140.7L755.5,141.8L758.0,142.8L760.5,143.9L763.0,145.0L765.5,146.0L768.0,147.0L770.5,148.0L773.1,148.9L775.6,149.9L778.1,150.8L780.7,151.7L783.2,152.5L785.8,153.4L788.4,154.2L791.0,155.0L793.5,155.8L796.1,156.6L798.7,157.3L801.3,158.0L803.9,158.7L806.5,159.4L809.2,160.0L811.8,160.6L814.4,161.2L817.0,161.8L819.7,162.3L822.3,162.8L825.0,163.3L827.6,163.8L830.3,164.2L832.9,164.6L835.6,165.0L838.2,165.3L840.9,165.7L843.6,166.0L846.3,166.2L848.9,166.5L851.6,166.7L854.3,166.9L857.0,167.1L859.7,167.2L862.4,167.4L865.0,167.5L867.7,167.6L870.4,167.7L873.1,167.8L875.8,167.8L878.5,167.9L881.2,168.0L883.9,168.0L886.6,168.0L889.3,168.1L892.0,168.1L894.7,168.2L897.4,168.2L900.1,168.2L902.8,168.3L905.5,168.3L908.2,168.4L910.9,168.4L913.6,168.4L916.3,168.5L919.0,168.5L921.7,168.5L924.4,168.6L927.1,168.6L929.8,168.6L932.5,168.7L935.2,168.7L937.9,168.7L940.6,168.8L943.3,168.8L946.0,168.8L948.7,168.9L951.4,168.9L954.1,168.9L956.8,168.9L959.5,169.0L962.2,169.0L964.9,169.0L967.6,169.1L970.3,169.1L973.0,169.1L975.7,169.1L978.4,169.2L981.1,169.2L983.8,169.2L986.5,169.2L989.2,169.3L991.9,169.3L994.6,169.3L997.3,169.3L1000.0,169.4L1002.7,169.4L1005.4,169.4L1008.1,169.4L1010.8,169.5L1013.5,169.5L1016.2,169.5L1018.9,169.5L1021.6,169.5L1024.3,169.6L1027.0,169.6L1029.7,169.6L1032.4,169.6L1035.1,169.7L1037.8,169.7L1040.5,169.7L1043.2,169.7L1045.9,169.7L1048.6,169.7L1051.3,169.8L1054.0,169.8L1056.7,169.8L1059.4,169.8L1062.1,169.8L1064.8,169.9L1067.5,169.9L1070.2,169.9L1072.9,169.9L1075.6,169.9L1078.3,169.9L1081.0,169.9L1083.7,170.0L1086.4,170.0L1089.1,170.0L1091.8,170.0L1094.5,170.0L1097.2,170.0L1099.9,170.0L1102.6,170.1L1105.3,170.1L1108.0,170.1L1110.7,170.1L1113.4,170.1L1116.1,170.1L1118.8,170.1L1121.5,170.1L1124.2,170.2L1126.9,170.2L1129.6,170.2L1132.3,170.2L1135.0,170.2L1137.7,170.2L1140.4,170.2L1143.1,170.2L1145.8,170.2L1148.5,170.2L1151.2,170.2L1153.9,170.3L1156.6,170.3L1159.3,170.3L1162.0,170.3L1164.7,170.3L1167.3,170.3L1170.0,170.3L1172.7,170.3L1175.4,170.3L1178.1,170.3L1180.8,170.3L1183.5,170.3L1186.2,170.3L1188.9,170.3L1191.6,170.4L1194.3,170.4L1197.0,170.4L1199.7,170.4L1202.4,170.4L1205.1,170.4L1207.8,170.4L1210.5,170.4L1213.2,170.4L1215.9,170.4L1218.6,170.4L1221.3,170.4L1224.0,170.4L1226.7,170.4L1229.4,170.4L1232.1,170.4L1234.8,170.4L1237.5,170.4L1240.2,170.4L1242.9,170.4L1245.6,170.4L1248.3,170.4L1251.0,170.4L1253.7,170.4L1256.4,170.4L1259.1,170.4L1261.8,170.4L1264.5,170.4L1267.2,170.4L1269.9,170.4L1272.6,170.4L1275.3,170.4L1278.0,170.4L1280.7,170.4L1283.4,170.4L1286.1,170.4L1288.8,170.4L1291.5,170.4L1294.2,170.4L1296.9,170.4L1299.6,170.4L1302.3,170.4L1305.0,170.4L1307.7,170.4L1310.4,170.4L1313.1,170.4L1315.8,170.4L1318.5,170.4L1321.2,170.4L1323.9,170.4L1326.6,170.4L1329.3,170.4L1332.0,170.4L1334.7,170.4L1337.4,170.4L1340.1,170.4L1342.8,170.4L1345.5,170.4L1348.2,170.4L1350.9,170.4L1353.6,170.4L1356.3,170.4L1359.0,170.3L1361.7,170.3L1364.4,170.3L1367.1,170.3L1369.8,170.3L1372.5,170.3"/>
<path clip-path="url(#c4)" stroke="#FFF824" d="M278.9,771.0L280.5,763.1L281.0,760.6L281.5,758.1L282.0,755.5L282.5,753.0L283.1,750.5L283.6,748.0L284.1,745.5L284.7,742.9L285.2,740.4L285.7,737.9L286.3,735.4L286.8,732.9L287.4,730.4L287.9,727.9L288.5,725.4L289.0,723.0L289.6,720.5L290.2,718.0L290.7,715.5L291.3,713.0L291.9,710.5L292.5,708.1L293.0,705.6L293.6,703.1L294.2,700.6L294.8,698.2L295.4,695.7L296.0,693.2L296.6,690.8L297.2,688.3L297.8,685.8L298.4,683.4L299.0,680.9L299.6,678.5L300.2,676.0L300.8,673.5L301.4,671.1L302.0,668.6L302.6,666.2L303.2,663.7L303.8,661.3L304.5,658.8L305.1,656.3L305.7,653.9L306.3,651.4L306.9,649.0L307.5,646.5L308.2,644.1L308.8,641.6L309.4,639.2L310.0,636.7L310.6,634.2L311.3,631.8L311.9,629.3L312.5,626.9L313.1,624.4L313.7,621.9L314.4,619.5L315.0,617.0L315.6,614.5L316.2,612.1L316.8,609.6L317.4,607.1L318.1,604.7L318.7,602.2L319.3,599.7L319.9,597.2L320.5,594.8L321.2,592.3L321.8,589.8L322.4,587.3L323.0,584.9L323.6,582.4L324.3,579.9L324.9,577.4L325.5,575.0L326.1,572.5L326.8,570.0L327.4,567.5L328.0,565.0L328.6,562.6L329.3,560.1L329.9,557.6L330.5,555.1L331.2,552.6L331.8,550.2L332.4,547.7L333.1,545.2L333.7,542.7L334.4,540.2L335.0,537.8L335.6,535.3L336.3,532.8L336.9,530.3L337.6,527.8L338.2,525.4L338.9,522.9L339.5,520.4L340.2,517.9L340.9,515.4L341.5,513.0L342.2,510.5L342.9,508.0L343.5,505.5L344.2,503.1L344.9,500.6L345.6,498.1L346.2,495.6L346.9,493.2L347.6,490.7L348.3,488.2L349.0,485.8L349.7,483.3L350.4,480.8L351.1,478.4L351.8,475.9L352.5,473.4L353.2,471.0L354.0,468.5L354.7,466.0L355.4,463.6L356.1,461.1L356.9,458.7L357.6,456.2L358.3,453.8L359.1,451.3L359.8,448.9L360.6,446.4L361.3,444.0L362.1,441.5L362.9,439.1L363.6,436.7L364.4,434.2L365.2,431.8L366.0,429.3L366.8,426.9L367.6,424.5L368.4,422.0L369.2,419.6L370.0,417.2L370.8,414.8L371.6,412.4L372.4,409.9L373.2,407.5L374.1,405.1L374.9,402.7L375.8,400.3L376.6,397.9L377.5,395.5L378.3,393.1L379.2,390.7L380.1,388.3L380.9,385.9L381.8,383.5L382.7,381.1L383.6,378.7L384.5,376.3L385.4,374.0L386.3,371.6L387.2,369.2L388.2,366.8L389.1,364.5L390.0,362.1L391.0,359.7L391.9,357.4L392.9,355.0L393.8,352.7L394.8,350.3L395.8,348.0L396.8,345.6L397.8,343.3L398.8,341.0L399.8,338.6L400.8,336.3L401.8,334.0L402.8,331.6L403.9,329.3L404.9,327.0L405.9,324.7L407.0,322.4L408.1,320.1L409.1,317.8L410.2,315.5L411.3,313.2L412.4,310.9L413.5,308.6L414.6,306.4L415.7,304.1L416.9,301.8L418.0,299.5L419.1,297.3L420.3,295.0L421.4,292.8L422.6,290.5L423.8,288.3L425.0,286.0L426.2,283.8L427.4,281.5L428.6,279.3L429.8,277.1L431.0,274.9L432.3,272.7L433.5,270.4L434.8,268.2L436.0,266.0L437.3,263.8L438.6,261.7L439.9,259.5L441.2,257.3L442.5,255.1L443.8,253.0L445.2,250.8L446.5,248.6L447.9,246.5L449.3,244.4L450.7,242.2L452.1,240.1L453.5,238.0L455.0,235.9L456.4,233.8L457.9,231.7L459.4,229.6L460.9,227.5L462.4,225.5L463.9,223.4L465.5,221.4L467.0,219.4L468.6,217.3L470.2,215.3L471.8,213.3L473.4,211.3L475.0,209.3L476.6,207.3L478.2,205.2L479.7,203.1L481.2,201.1L482.7,199.0L484.2,196.9L485.7,194.9L487.2,192.8L488.7,190.8L490.3,188.8L491.9,186.9L493.6,185.0L495.3,183.2L497.0,181.3L498.8,179.5L500.6,177.8L502.4,176.0L504.2,174.3L506.1,172.6L507.9,170.9L509.8,169.3L511.8,167.6L513.7,166.0L515.6,164.3L517.6,162.7L519.6,161.1L521.6,159.5L523.6,157.9L525.6,156.2L527.6,154.6L529.6,153.0L531.6,151.3L533.6,149.7L535.6,148.1L537.6,146.5L539.6,144.8L541.7,143.3L543.7,141.7L545.8,140.2L547.9,138.7L550.0,137.3L552.1,135.9L554.3,134.6L556.5,133.4L558.7,132.2L561.0,131.1L563.3,130.1L565.6,129.2L568.0,128.3L570.4,127.6L572.9,126.9L575.4,126.4L577.8,125.9L580.3,125.5L582.9,125.2L585.4,124.9L587.9,124.7L590.4,124.6L593.0,124.5L595.5,124.5L598.0,124.5L600.6,124.6L603.1,124.7L605.7,124.8L608.2,125.1L610.7,125.3L613.3,125.6L615.8,125.8L618.4,126.2L620.9,126.5L623.4,126.9L626.0,127.2L628.5,127.6L631.1,128.0L633.6,128.4L636.2,128.8L638.7,129.2L641.3,129.6L643.9,129.9L646.4,130.3L649.0,130.6L651.5,130.9L654.1,131.2L656.6,131.5L659.2,131.8L661.8,132.0L664.3,132.2L666.9,132.5L669.4,132.7L671.9,133.0L674.5,133.3L677.0,133.6L679.5,134.0L682.0,134.3L684.5,134.7L687.0,135.2L689.4,135.7L691.9,136.3L694.3,136.9L696.7,137.6L699.1,138.4L701.5,139.3L703.9,140.2L706.2,141.2L708.6,142.2L710.9,143.3L713.2,144.4L715.5,145.4L717.9,146.5L720.2,147.6L722.6,148.6L724.9,149.6L727.3,150.5L729.7,151.3L732.1,152.1L734.5,152.8L737.0,153.4L739.5,153.9L741.9,154.4L744.4,154.8L747.0,155.2L749.5,155.6L752.0,155.9L754.5,156.3L757.1,156.7L759.6,157.0L762.1,157.4L764.6,157.9L767.1,158.3L769.7,158.8L772.2,159.3L774.7,159.8L777.2,160.4L779.7,160.9L782.2,161.5L784.7,162.1L787.2,162.7L789.6,163.3L792.1,163.9L794.6,164.5L797.1,165.1L799.6,165.7L802.1,166.3L804.6,166.9L807.1,167.5L809.6,168.1L812.1,168.7L814.5,169.3L817.0,169.9L819.5,170.4L822.0,170.9L824.5,171.4L827.0,171.9L829.5,172.3L832.0,172.8L834.6,173.2L837.1,173.5L839.6,173.9L842.1,174.1L844.6,174.4L847.2,174.6L849.7,174.8L852.3,175.0L854.8,175.2L857.3,175.3L859.9,175.4L862.4,175.5L865.0,175.6L867.5,175.7L870.1,175.8L872.6,175.9L875.2,176.0L877.7,176.0L880.3,176.1L882.8,176.2L885.4,176.2L887.9,176.3L890.5,176.4L893.0,176.4L895.6,176.5L898.1,176.5L900.7,176.6L903.2,176.6L905.8,176.7L908.3,176.7L910.9,176.8L913.4,176.8L916.0,176.9L918.5,176.9L921.1,176.9L923.6,177.0L926.2,177.0L928.7,177.1L931.3,177.1L933.8,177.1L936.4,177.1L938.9,177.2L941.5,177.2L944.0,177.2L946.6,177.2L949.1,177.3L951.7,177.3L954.2,177.3L956.8,177.3L959.3,177.3L961.9,177.3L964.4,177.3L967.0,177.3L969.5,177.4L972.1,177.4L974.6,177.4L977.2,177.4L979.7,177.4L982.3,177.4L984.8,177.4L987.4,177.4L989.9,177.4L992.5,177.4L995.0,177.4L997.6,177.3L1000.1,177.3L1002.7,177.3L1005.2,177.3L1007.8,177.3L1010.3,177.3L1012.9,177.3L1015.4,177.3L1018.0,177.3L1020.5,177.2L1023.1,177.2L1025.6,177.2L1028.2,177.2L1030.7,177.2L1033.3,177.1L1035.8,177.1L1038.4,177.1L1040.9,177.1L1043.5,177.1L1046.0,177.0L1048.6,177.0L1051.2,177.0L1053.7,177.0L1056.3,176.9L1058.8,176.9L1061.4,176.9L1063.9,176.8L1066.5,176.8L1069.0,176.8L1071.6,176.8L1074.1,176.7L1076.7,176.7L1079.2,176.7L1081.8,176.6L1084.3,176.6L1086.9,176.6L1089.4,176.5L1092.0,176.5L1094.5,176.5L1097.1,176.4L1099.6,176.4L1102.2,176.4L1104.7,176.4L1107.3,176.3L1109.8,176.3L1112.4,176.3L1114.9,176.2L1117.5,176.2L1120.0,176.2L1122.6,176.1L1125.1,176.1L1127.7,176.1L1130.2,176.0L1132.8,176.0L1135.3,176.0L1137.9,175.9L1140.4,175.9L1143.0,175.9L1145.5,175.8L1148.1,175.8L1150.6,175.8L1153.2,175.7L1155.7,175.7L1158.3,175.7L1160.8,175.6L1163.4,175.6L1165.9,175.6L1168.5,175.5L1171.0,175.5L1173.6,175.5L1176.1,175.4L1178.7,175.4L1181.2,175.4L1183.8,175.4L1186.3,175.3L1188.9,175.3L1191.4,175.3L1194.0,175.2L1196.5,175.2L1199.1,175.2L1201.6,175.1L1204.2,175.1L1206.7,175.1L1209.3,175.1L1211.8,175.0L1214.4,175.0L1216.9,175.0L1219.5,174.9L1222.0,174.9L1224.6,174.9L1227.1,174.8L1229.7,174.8L1232.2,174.8L1234.8,174.8L1237.3,174.7L1239.9,174.7L1242.4,174.7L1245.0,174.6L1247.5,174.6L1250.1,174.6L1252.6,174.5L1255.2,174.5L1257.7,174.5L1260.3,174.5L1262.8,174.4L1265.4,174.4L1267.9,174.4L1270.5,174.3L1273.0,174.3L1275.6,174.3L1278.1,174.2L1280.7,174.2L1283.2,174.2L1285.8,174.1L1288.3,174.1L1290.9,174.1L1293.4,174.1L1296.0,174.0L1298.5,174.0L1301.1,174.0L1303.6,173.9L1306.2,173.9L1308.7,173.9L1311.3,173.8L1313.8,173.8L1316.4,173.8L1318.9,173.7L1321.5,173.7L1324.0,173.7L1326.6,173.6L1329.1,173.6L1331.7,173.6L1334.2,173.5L1336.8,173.5L1339.3,173.5L1341.9,173.4L1344.4,173.4L1347.0,173.4L1349.5,173.3L1352.1,173.3L1354.6,173.3L1357.2,173.2L1359.7,173.2L1362.3,173.2L1364.8,173.1L1367.4,173.1L1369.9,173.1L1372.5,173.0"/>
<path clip-path="url(#c5)" stroke="#424242" d="M278.4,777.3L280.5,769.5L281.2,767.1L281.8,764.6L282.5,762.1L283.2,759.7L283.8,757.2L284.5,754.7L285.2,752.2L285.8,749.7L286.5,747.2L287.1,744.8L287.7,742.3L288.4,739.8L289.0,737.3L289.6,734.8L290.3,732.3L290.9,729.8L291.5,727.3L292.1,724.8L292.8,722.3L293.4,719.8L294.0,717.3L294.6,714.8L295.2,712.3L295.8,709.8L296.4,707.3L297.0,704.8L297.6,702.3L298.2,699.7L298.9,697.2L299.5,694.7L300.1,692.2L300.7,689.7L301.3,687.2L301.9,684.7L302.4,682.2L303.0,679.7L303.6,677.1L304.2,674.6L304.8,672.1L305.4,669.6L306.0,667.1L306.6,664.6L307.2,662.1L307.8,659.6L308.4,657.1L309.0,654.5L309.6,652.0L310.2,649.5L310.8,647.0L311.5,644.5L312.1,642.0L312.7,639.5L313.3,637.0L313.9,634.5L314.5,632.0L315.1,629.5L315.7,627.0L316.4,624.5L317.0,622.0L317.6,619.5L318.2,617.0L318.9,614.5L319.5,612.0L320.1,609.5L320.8,607.0L321.4,604.5L322.1,602.0L322.7,599.5L323.3,597.0L324.0,594.5L324.6,592.0L325.3,589.6L326.0,587.1L326.6,584.6L327.3,582.1L327.9,579.6L328.6,577.1L329.3,574.7L329.9,572.2L330.6,569.7L331.3,567.2L332.0,564.7L332.6,562.3L333.3,559.8L334.0,557.3L334.7,554.8L335.4,552.4L336.1,549.9L336.8,547.4L337.4,545.0L338.1,542.5L338.8,540.0L339.5,537.5L340.2,535.1L340.9,532.6L341.6,530.1L342.3,527.7L343.0,525.2L343.8,522.7L344.5,520.3L345.2,517.8L345.9,515.3L346.6,512.9L347.3,510.4L348.0,507.9L348.8,505.5L349.5,503.0L350.2,500.5L350.9,498.1L351.6,495.6L352.4,493.2L353.1,490.7L353.8,488.2L354.6,485.8L355.3,483.3L356.0,480.8L356.8,478.4L357.5,475.9L358.2,473.4L359.0,471.0L359.7,468.5L360.4,466.1L361.2,463.6L361.9,461.1L362.7,458.7L363.4,456.2L364.2,453.7L364.9,451.3L365.7,448.8L366.4,446.4L367.2,443.9L367.9,441.4L368.7,439.0L369.4,436.5L370.2,434.0L370.9,431.6L371.7,429.1L372.4,426.6L373.2,424.2L374.0,421.7L374.7,419.2L375.5,416.8L376.2,414.3L377.0,411.8L377.8,409.3L378.5,406.9L379.3,404.4L380.0,401.9L380.8,399.5L381.6,397.0L382.3,394.5L383.1,392.0L383.9,389.6L384.6,387.1L385.4,384.6L386.2,382.1L386.9,379.7L387.7,377.2L388.5,374.7L389.2,372.2L390.0,369.7L390.8,367.3L391.6,364.8L392.3,362.3L393.1,359.8L393.9,357.3L394.7,354.9L395.5,352.4L396.3,349.9L397.1,347.4L397.9,345.0L398.7,342.5L399.5,340.0L400.3,337.6L401.1,335.1L402.0,332.7L402.8,330.2L403.7,327.8L404.5,325.3L405.4,322.9L406.3,320.4L407.1,318.0L408.0,315.6L408.9,313.2L409.8,310.7L410.7,308.3L411.7,305.9L412.6,303.5L413.6,301.1L414.5,298.7L415.5,296.4L416.5,294.0L417.5,291.6L418.5,289.3L419.5,286.9L420.6,284.6L421.6,282.2L422.7,279.9L423.7,277.6L424.8,275.3L425.9,273.0L427.1,270.7L428.2,268.4L429.4,266.1L430.5,263.8L431.7,261.6L432.9,259.3L434.2,257.1L435.4,254.9L436.7,252.7L437.9,250.5L439.2,248.3L440.5,246.1L441.9,243.9L443.2,241.7L444.6,239.6L445.9,237.4L447.3,235.3L448.7,233.2L450.2,231.0L451.6,228.9L453.1,226.8L454.5,224.8L456.0,222.7L457.5,220.6L459.0,218.6L460.6,216.5L462.1,214.5L463.7,212.4L465.2,210.4L466.8,208.4L468.4,206.4L470.0,204.4L471.7,202.5L473.3,200.5L475.0,198.5L476.7,196.6L478.3,194.6L480.0,192.7L481.8,190.8L483.5,188.9L485.2,187.0L487.0,185.1L488.7,183.2L490.5,181.3L492.3,179.5L494.1,177.6L495.9,175.8L497.8,173.9L499.6,172.1L501.5,170.3L503.3,168.5L505.2,166.7L507.1,164.9L509.0,163.1L510.9,161.4L512.9,159.6L514.8,157.9L516.8,156.1L518.7,154.4L520.7,152.7L522.7,151.0L524.7,149.3L526.7,147.6L528.7,145.9L530.7,144.2L532.8,142.6L534.8,140.9L536.9,139.3L539.0,137.8L541.1,136.2L543.2,134.7L545.3,133.2L547.4,131.8L549.6,130.4L551.8,129.0L554.0,127.7L556.2,126.5L558.5,125.3L560.7,124.2L563.0,123.1L565.3,122.1L567.7,121.1L570.0,120.2L572.4,119.4L574.8,118.7L577.2,118.0L579.6,117.4L582.1,116.8L584.5,116.3L587.0,115.9L589.5,115.5L592.0,115.2L594.5,115.0L597.0,114.8L599.6,114.7L602.1,114.6L604.6,114.6L607.2,114.6L609.8,114.8L612.3,114.9L614.9,115.2L617.5,115.4L620.0,115.7L622.6,116.1L625.2,116.4L627.7,116.8L630.3,117.2L632.9,117.6L635.4,118.0L638.0,118.5L640.6,118.9L643.1,119.4L645.7,119.8L648.2,120.3L650.8,120.8L653.3,121.3L655.9,121.8L658.4,122.4L660.9,122.9L663.5,123.5L666.0,124.1L668.5,124.7L671.0,125.3L673.5,125.9L676.0,126.5L678.5,127.2L681.0,127.8L683.5,128.5L685.9,129.2L688.4,129.9L690.8,130.6L693.3,131.4L695.7,132.1L698.2,132.9L700.6,133.7L703.0,134.5L705.4,135.3L707.8,136.2L710.2,137.0L712.6,137.9L715.0,138.7L717.4,139.6L719.8,140.5L722.2,141.3L724.6,142.2L727.0,143.1L729.4,143.9L731.8,144.8L734.2,145.6L736.6,146.4L739.1,147.2L741.5,148.0L744.0,148.8L746.4,149.6L748.8,150.3L751.3,151.1L753.8,151.8L756.2,152.6L758.7,153.3L761.2,154.0L763.7,154.7L766.1,155.3L768.6,156.0L771.1,156.7L773.6,157.3L776.1,157.9L778.6,158.5L781.1,159.1L783.7,159.7L786.2,160.3L788.7,160.9L791.2,161.4L793.7,161.9L796.3,162.4L798.8,162.9L801.3,163.4L803.9,163.9L806.4,164.3L809.0,164.8L811.5,165.2L814.1,165.6L816.6,166.0L819.2,166.4L821.7,166.7L824.3,167.1L826.8,167.4L829.4,167.7L832.0,168.0L834.5,168.2L837.1,168.5L839.7,168.7L842.2,169.0L844.8,169.2L847.4,169.3L849.9,169.5L852.5,169.7L855.1,169.8L857.6,169.9L860.2,170.0L862.8,170.1L865.3,170.2L867.9,170.3L870.5,170.4L873.1,170.5L875.6,170.5L878.2,170.6L880.8,170.6L883.4,170.7L885.9,170.7L888.5,170.8L891.1,170.8L893.7,170.8L896.2,170.9L898.8,170.9L901.4,171.0L903.9,171.0L906.5,171.0L909.1,171.1L911.7,171.1L914.2,171.1L916.8,171.2L919.4,171.2L922.0,171.2L924.5,171.3L927.1,171.3L929.7,171.3L932.3,171.4L934.8,171.4L937.4,171.4L940.0,171.4L942.6,171.5L945.1,171.5L947.7,171.5L950.3,171.5L952.9,171.6L955.4,171.6L958.0,171.6L960.6,171.6L963.2,171.7L965.7,171.7L968.3,171.7L970.9,171.7L973.5,171.8L976.0,171.8L978.6,171.8L981.2,171.8L983.8,171.8L986.3,171.9L988.9,171.9L991.5,171.9L994.0,171.9L996.6,171.9L999.2,172.0L1001.8,172.0L1004.3,172.0L1006.9,172.0L1009.5,172.0L1012.1,172.0L1014.6,172.1L1017.2,172.1L1019.8,172.1L1022.4,172.1L1024.9,172.1L1027.5,172.1L1030.1,172.2L1032.7,172.2L1035.2,172.2L1037.8,172.2L1040.4,172.2L1043.0,172.2L1045.5,172.2L1048.1,172.2L1050.7,172.3L1053.3,172.3L1055.8,172.3L1058.4,172.3L1061.0,172.3L1063.6,172.3L1066.1,172.3L1068.7,172.3L1071.3,172.3L1073.9,172.3L1076.4,172.3L1079.0,172.4L1081.6,172.4L1084.2,172.4L1086.7,172.4L1089.3,172.4L1091.9,172.4L1094.5,172.4L1097.0,172.4L1099.6,172.4L1102.2,172.4L1104.8,172.4L1107.3,172.4L1109.9,172.4L1112.5,172.4L1115.0,172.4L1117.6,172.4L1120.2,172.4L1122.8,172.5L1125.3,172.5L1127.9,172.5L1130.5,172.5L1133.1,172.5L1135.6,172.5L1138.2,172.5L1140.8,172.5L1143.4,172.5L1145.9,172.5L1148.5,172.5L1151.1,172.5L1153.7,172.5L1156.2,172.5L1158.8,172.5L1161.4,172.5L1164.0,172.5L1166.5,172.5L1169.1,172.5L1171.7,172.5L1174.3,172.5L1176.8,172.5L1179.4,172.5L1182.0,172.5L1184.6,172.5L1187.1,172.5L1189.7,172.5L1192.3,172.5L1194.9,172.5L1197.4,172.5L1200.0,172.5L1202.6,172.5L1205.2,172.5L1207.7,172.5L1210.3,172.5L1212.9,172.5L1215.5,172.5L1218.0,172.5L1220.6,172.5L1223.2,172.5L1225.8,172.5L1228.3,172.5L1230.9,172.5L1233.5,172.5L1236.1,172.5L1238.6,172.5L1241.2,172.5L1243.8,172.5L1246.3,172.5L1248.9,172.5L1251.5,172.5L1254.1,172.5L1256.6,172.5L1259.2,172.5L1261.8,172.5L1264.4,172.5L1266.9,172.5L1269.5,172.5L1272.1,172.5L1274.7,172.5L1277.2,172.5L1279.8,172.5L1282.4,172.5L1285.0,172.5L1287.5,172.5L1290.1,172.5L1292.7,172.5L1295.3,172.5L1297.8,172.5L1300.4,172.5L1303.0,172.5L1305.6,172.5L1308.1,172.5L1310.7,172.5L1313.3,172.5L1315.9,172.5L1318.4,172.5L1321.0,172.5L1323.6,172.5L1326.2,172.5L1328.7,172.5L1331.3,172.5L1333.9,172.5L1336.5,172.5L1339.0,172.5L1341.6,172.5L1344.2,172.5L1346.8,172.5L1349.3,172.5L1351.9,172.5L1354.5,172.5L1357.1,172.5L1359.6,172.5L1362.2,172.5L1364.8,172.5L1367.4,172.5L1369.9,172.5L1372.5,172.5"/>
<path clip-path="url(#c6)" stroke="#000000" d="M277.9,858.4L280.5,850.9L281.4,848.3L282.3,845.6L283.2,843.0L284.1,840.4L285.0,837.8L285.9,835.2L286.7,832.5L287.6,829.9L288.4,827.3L289.2,824.6L290.0,822.0L290.8,819.3L291.6,816.7L292.4,814.0L293.2,811.4L293.9,808.7L294.7,806.1L295.4,803.4L296.2,800.8L296.9,798.1L297.6,795.4L298.3,792.8L299.0,790.1L299.7,787.4L300.4,784.8L301.1,782.1L301.7,779.4L302.4,776.7L303.1,774.1L303.7,771.4L304.4,768.7L305.0,766.0L305.6,763.3L306.3,760.7L306.9,758.0L307.5,755.3L308.1,752.6L308.7,749.9L309.3,747.2L309.9,744.5L310.5,741.8L311.1,739.1L311.7,736.4L312.2,733.7L312.8,731.0L313.4,728.3L313.9,725.6L314.5,722.9L315.1,720.2L315.6,717.5L316.2,714.8L316.8,712.1L317.3,709.4L317.9,706.7L318.4,704.0L319.0,701.3L319.5,698.6L320.1,695.9L320.6,693.2L321.2,690.5L321.7,687.8L322.3,685.1L322.8,682.4L323.4,679.7L323.9,677.0L324.5,674.2L325.0,671.5L325.6,668.8L326.1,666.1L326.7,663.4L327.2,660.7L327.8,658.0L328.3,655.3L328.9,652.6L329.5,649.9L330.0,647.2L330.6,644.5L331.2,641.8L331.8,639.1L332.4,636.4L332.9,633.7L333.5,631.1L334.1,628.4L334.7,625.7L335.3,623.0L336.0,620.3L336.6,617.6L337.2,614.9L337.8,612.2L338.5,609.5L339.1,606.9L339.7,604.2L340.4,601.5L341.0,598.8L341.7,596.1L342.4,593.5L343.0,590.8L343.7,588.1L344.4,585.5L345.1,582.8L345.7,580.1L346.4,577.4L347.1,574.8L347.8,572.1L348.5,569.4L349.2,566.8L349.9,564.1L350.7,561.5L351.4,558.8L352.1,556.1L352.8,553.5L353.6,550.8L354.3,548.2L355.0,545.5L355.8,542.8L356.5,540.2L357.3,537.5L358.0,534.9L358.8,532.2L359.5,529.6L360.3,526.9L361.1,524.3L361.8,521.6L362.6,519.0L363.4,516.3L364.2,513.7L364.9,511.0L365.7,508.4L366.5,505.8L367.3,503.1L368.1,500.5L368.9,497.8L369.7,495.2L370.5,492.5L371.3,489.9L372.1,487.3L372.9,484.6L373.7,482.0L374.5,479.4L375.3,476.7L376.2,474.1L377.0,471.4L377.8,468.8L378.6,466.2L379.4,463.5L380.3,460.9L381.1,458.3L381.9,455.6L382.8,453.0L383.6,450.4L384.4,447.7L385.3,445.1L386.1,442.5L386.9,439.9L387.8,437.2L388.6,434.6L389.5,432.0L390.3,429.3L391.2,426.7L392.0,424.1L392.8,421.5L393.7,418.8L394.5,416.2L395.4,413.6L396.2,410.9L397.1,408.3L397.9,405.7L398.8,403.1L399.7,400.4L400.5,397.8L401.4,395.2L402.2,392.6L403.1,389.9L403.9,387.3L404.8,384.7L405.6,382.1L406.5,379.4L407.3,376.8L408.2,374.2L409.1,371.6L409.9,368.9L410.8,366.3L411.6,363.7L412.5,361.1L413.3,358.4L414.2,355.8L415.1,353.2L415.9,350.6L416.8,347.9L417.7,345.3L418.5,342.7L419.4,340.1L420.3,337.5L421.1,334.8L422.0,332.2L422.9,329.6L423.8,327.0L424.7,324.4L425.5,321.8L426.4,319.2L427.3,316.5L428.2,313.9L429.1,311.3L430.0,308.7L430.9,306.1L431.8,303.5L432.8,300.9L433.7,298.3L434.6,295.7L435.5,293.1L436.4,290.5L437.4,287.9L438.3,285.3L439.3,282.7L440.2,280.2L441.2,277.6L442.1,275.0L443.1,272.4L444.1,269.8L445.0,267.2L446.0,264.7L447.0,262.1L448.0,259.5L449.0,257.0L450.0,254.4L451.0,251.8L452.1,249.3L453.1,246.7L454.1,244.2L455.2,241.6L456.2,239.1L457.3,236.5L458.3,234.0L459.4,231.4L460.5,228.9L461.6,226.4L462.6,223.8L463.7,221.3L464.9,218.8L466.0,216.3L467.1,213.7L468.2,211.2L469.4,208.7L470.5,206.2L471.7,203.7L472.9,201.2L474.0,198.7L475.2,196.2L476.4,193.7L477.6,191.2L478.9,188.8L480.1,186.3L481.3,183.8L482.6,181.3L483.8,178.9L485.1,176.4L486.4,173.9L487.7,171.5L489.0,169.0L490.3,166.6L491.6,164.2L493.0,161.8L494.4,159.4L495.8,157.0L497.2,154.7L498.7,152.3L500.2,150.0L501.7,147.7L503.3,145.5L504.9,143.3L506.5,141.1L508.2,138.9L509.9,136.8L511.7,134.7L513.5,132.7L515.3,130.7L517.2,128.7L519.1,126.7L521.0,124.8L523.0,122.9L525.0,121.0L527.0,119.1L529.0,117.2L531.1,115.4L533.1,113.5L535.2,111.7L537.3,109.8L539.4,108.0L541.5,106.1L543.7,104.3L545.8,102.5L548.0,100.6L550.1,98.8L552.3,97.0L554.5,95.3L556.7,93.6L558.9,91.9L561.1,90.3L563.4,88.7L565.7,87.2L568.1,85.8L570.4,84.5L572.8,83.3L575.2,82.1L577.7,81.1L580.2,80.2L582.7,79.3L585.3,78.7L588.0,78.1L590.6,77.7L593.3,77.4L596.1,77.2L598.8,77.1L601.6,77.1L604.4,77.2L607.2,77.3L609.9,77.5L612.7,77.8L615.5,78.0L618.2,78.4L620.9,78.7L623.7,79.1L626.4,79.6L629.1,80.1L631.8,80.6L634.5,81.2L637.2,81.8L639.9,82.4L642.6,83.1L645.2,83.8L647.9,84.5L650.5,85.3L653.2,86.1L655.8,86.9L658.4,87.8L661.1,88.7L663.7,89.6L666.3,90.5L668.9,91.4L671.5,92.4L674.1,93.4L676.7,94.4L679.2,95.4L681.8,96.5L684.4,97.5L686.9,98.6L689.5,99.7L692.0,100.8L694.6,101.9L697.1,103.0L699.6,104.1L702.2,105.2L704.7,106.3L707.2,107.5L709.7,108.6L712.2,109.8L714.7,110.9L717.2,112.0L719.7,113.2L722.2,114.4L724.7,115.5L727.2,116.7L729.7,117.8L732.2,119.0L734.7,120.1L737.2,121.3L739.7,122.4L742.2,123.6L744.7,124.7L747.2,125.9L749.7,127.0L752.2,128.1L754.7,129.3L757.2,130.4L759.7,131.5L762.2,132.6L764.7,133.7L767.2,134.8L769.8,135.9L772.3,136.9L774.8,138.0L777.4,139.1L779.9,140.1L782.5,141.1L785.0,142.2L787.6,143.2L790.2,144.2L792.7,145.1L795.3,146.1L797.9,147.0L800.5,148.0L803.2,148.9L805.8,149.8L808.4,150.7L811.0,151.6L813.7,152.4L816.3,153.2L819.0,154.0L821.6,154.8L824.3,155.6L827.0,156.4L829.6,157.1L832.3,157.8L835.0,158.5L837.7,159.1L840.4,159.8L843.1,160.4L845.8,161.0L848.5,161.5L851.2,162.1L853.9,162.6L856.7,163.1L859.4,163.5L862.1,163.9L864.9,164.3L867.6,164.7L870.3,165.0L873.1,165.3L875.8,165.6L878.6,165.9L881.3,166.1L884.1,166.3L886.8,166.5L889.6,166.6L892.3,166.8L895.1,166.9L897.8,167.0L900.6,167.1L903.3,167.2L906.1,167.2L908.9,167.3L911.6,167.4L914.4,167.4L917.1,167.5L919.9,167.5L922.7,167.5L925.4,167.6L928.2,167.6L931.0,167.6L933.7,167.7L936.5,167.7L939.2,167.7L942.0,167.7L944.8,167.8L947.5,167.8L950.3,167.8L953.0,167.8L955.8,167.8L958.5,167.9L961.3,167.9L964.1,167.9L966.8,167.9L969.6,167.9L972.3,167.9L975.1,168.0L977.9,168.0L980.6,168.0L983.4,168.0L986.1,168.1L988.9,168.1L991.7,168.1L994.4,168.2L997.2,168.2L999.9,168.2L1002.7,168.3L1005.5,168.3L1008.2,168.3L1011.0,168.4L1013.7,168.4L1016.5,168.5L1019.3,168.5L1022.0,168.5L1024.8,168.6L1027.5,168.6L1030.3,168.7L1033.1,168.7L1035.8,168.8L1038.6,168.8L1041.3,168.9L1044.1,168.9L1046.9,169.0L1049.6,169.0L1052.4,169.0L1055.1,169.1L1057.9,169.1L1060.6,169.2L1063.4,169.2L1066.2,169.3L1068.9,169.3L1071.7,169.4L1074.4,169.4L1077.2,169.5L1080.0,169.5L1082.7,169.6L1085.5,169.6L1088.2,169.6L1091.0,169.7L1093.8,169.7L1096.5,169.8L1099.3,169.8L1102.0,169.9L1104.8,169.9L1107.6,169.9L1110.3,170.0L1113.1,170.0L1115.8,170.0L1118.6,170.1L1121.4,170.1L1124.1,170.1L1126.9,170.1L1129.6,170.2L1132.4,170.2L1135.2,170.2L1137.9,170.2L1140.7,170.2L1143.4,170.3L1146.2,170.3L1149.0,170.3L1151.7,170.3L1154.5,170.3L1157.2,170.3L1160.0,170.4L1162.8,170.4L1165.5,170.4L1168.3,170.4L1171.0,170.4L1173.8,170.4L1176.6,170.4L1179.3,170.4L1182.1,170.4L1184.8,170.4L1187.6,170.4L1190.4,170.4L1193.1,170.4L1195.9,170.4L1198.6,170.4L1201.4,170.4L1204.2,170.4L1206.9,170.4L1209.7,170.4L1212.4,170.4L1215.2,170.4L1217.9,170.4L1220.7,170.4L1223.5,170.4L1226.2,170.4L1229.0,170.4L1231.7,170.4L1234.5,170.4L1237.3,170.4L1240.0,170.4L1242.8,170.4L1245.5,170.4L1248.3,170.4L1251.1,170.4L1253.8,170.4L1256.6,170.4L1259.3,170.4L1262.1,170.4L1264.9,170.4L1267.6,170.3L1270.4,170.3L1273.1,170.3L1275.9,170.3L1278.7,170.3L1281.4,170.3L1284.2,170.3L1286.9,170.3L1289.7,170.3L1292.5,170.3L1295.2,170.3L1298.0,170.3L1300.7,170.3L1303.5,170.3L1306.3,170.3L1309.0,170.3L1311.8,170.3L1314.5,170.3L1317.3,170.3L1320.1,170.3L1322.8,170.3L1325.6,170.3L1328.3,170.3L1331.1,170.3L1333.9,170.3L1336.6,170.3L1339.4,170.3L1342.1,170.3L1344.9,170.3L1347.7,170.3L1350.4,170.3L1353.2,170.3L1355.9,170.3L1358.7,170.3L1361.5,170.3L1364.2,170.3L1367.0,170.3L1369.7,170.4L1372.5,170.4"/>
<path clip-path="url(#c7)" stroke="#C8F86E" d="M278.6,818.5L280.5,810.7L281.1,808.1L281.7,805.5L282.4,802.9L283.0,800.4L283.7,797.8L284.4,795.2L285.1,792.6L285.9,790.1L286.6,787.5L287.4,785.0L288.1,782.4L288.9,779.9L289.7,777.3L290.4,774.8L291.2,772.2L292.0,769.7L292.8,767.2L293.5,764.6L294.3,762.1L295.1,759.5L295.8,757.0L296.6,754.4L297.3,751.9L298.0,749.3L298.7,746.8L299.4,744.2L300.1,741.6L300.7,739.1L301.4,736.5L302.0,733.9L302.6,731.3L303.2,728.7L303.8,726.1L304.4,723.5L305.0,720.9L305.5,718.3L306.1,715.7L306.6,713.1L307.1,710.5L307.6,707.9L308.1,705.3L308.6,702.7L309.1,700.1L309.6,697.4L310.1,694.8L310.6,692.2L311.0,689.6L311.5,686.9L311.9,684.3L312.4,681.7L312.8,679.0L313.3,676.4L313.7,673.8L314.2,671.1L314.6,668.5L315.0,665.9L315.5,663.2L315.9,660.6L316.4,658.0L316.8,655.3L317.2,652.7L317.7,650.1L318.1,647.4L318.6,644.8L319.0,642.2L319.4,639.5L319.9,636.9L320.4,634.3L320.8,631.7L321.3,629.0L321.8,626.4L322.2,623.8L322.7,621.2L323.2,618.6L323.7,615.9L324.2,613.3L324.8,610.7L325.3,608.1L325.8,605.5L326.3,602.9L326.9,600.3L327.4,597.7L328.0,595.1L328.6,592.5L329.1,589.9L329.7,587.3L330.3,584.8L330.9,582.2L331.5,579.6L332.1,577.0L332.7,574.4L333.3,571.8L333.9,569.3L334.6,566.7L335.2,564.1L335.8,561.5L336.5,559.0L337.1,556.4L337.8,553.8L338.5,551.3L339.1,548.7L339.8,546.1L340.5,543.6L341.1,541.0L341.8,538.4L342.5,535.9L343.2,533.3L343.9,530.8L344.6,528.2L345.3,525.6L346.0,523.1L346.8,520.5L347.5,518.0L348.2,515.4L348.9,512.9L349.7,510.3L350.4,507.8L351.2,505.2L351.9,502.7L352.6,500.1L353.4,497.6L354.2,495.0L354.9,492.5L355.7,490.0L356.4,487.4L357.2,484.9L358.0,482.3L358.7,479.8L359.5,477.2L360.3,474.7L361.1,472.2L361.9,469.6L362.6,467.1L363.4,464.5L364.2,462.0L365.0,459.4L365.8,456.9L366.6,454.4L367.4,451.8L368.2,449.3L369.0,446.7L369.8,444.2L370.6,441.7L371.4,439.1L372.2,436.6L373.0,434.0L373.8,431.5L374.7,428.9L375.5,426.4L376.3,423.9L377.1,421.3L377.9,418.8L378.7,416.2L379.5,413.7L380.4,411.1L381.2,408.6L382.0,406.0L382.8,403.5L383.6,400.9L384.4,398.4L385.3,395.8L386.1,393.3L386.9,390.7L387.7,388.2L388.5,385.6L389.3,383.1L390.1,380.5L391.0,378.0L391.8,375.4L392.6,372.8L393.4,370.3L394.2,367.7L395.0,365.2L395.8,362.6L396.7,360.0L397.5,357.5L398.3,354.9L399.1,352.4L399.9,349.8L400.8,347.3L401.6,344.7L402.5,342.2L403.3,339.6L404.1,337.1L405.0,334.5L405.9,332.0L406.7,329.4L407.6,326.9L408.5,324.4L409.3,321.8L410.2,319.3L411.1,316.8L412.0,314.3L413.0,311.8L413.9,309.3L414.8,306.8L415.8,304.3L416.7,301.8L417.7,299.3L418.6,296.8L419.6,294.3L420.6,291.9L421.6,289.4L422.6,287.0L423.7,284.5L424.7,282.1L425.7,279.6L426.8,277.2L427.9,274.8L429.0,272.4L430.1,270.0L431.2,267.6L432.3,265.2L433.5,262.8L434.7,260.5L435.8,258.1L437.0,255.7L438.3,253.4L439.5,251.1L440.7,248.8L442.0,246.4L443.3,244.1L444.6,241.9L445.9,239.6L447.3,237.3L448.6,235.1L450.0,232.8L451.4,230.6L452.8,228.4L454.3,226.2L455.7,224.0L457.2,221.8L458.7,219.6L460.2,217.4L461.8,215.3L463.3,213.2L464.9,211.1L466.6,209.0L468.2,206.9L469.9,204.8L471.6,202.7L473.3,200.7L475.0,198.7L476.8,196.6L478.6,194.6L480.4,192.7L482.2,190.7L484.1,188.7L486.0,186.8L487.9,184.9L489.9,183.0L491.8,181.1L493.7,179.1L495.6,177.2L497.5,175.3L499.3,173.3L501.1,171.3L502.8,169.2L504.4,167.1L505.9,164.9L507.2,162.7L508.5,160.4L509.7,158.1L510.9,155.8L512.1,153.5L513.3,151.2L514.5,149.0L515.9,146.9L517.4,145.0L519.1,143.1L520.8,141.3L522.6,139.5L524.5,137.7L526.4,136.0L528.3,134.2L530.3,132.5L532.3,130.7L534.4,129.0L536.5,127.3L538.6,125.6L540.8,124.0L543.0,122.4L545.3,120.8L547.5,119.3L549.8,117.8L552.2,116.3L554.5,114.9L556.9,113.6L559.3,112.3L561.7,111.0L564.2,109.8L566.6,108.7L569.1,107.6L571.6,106.7L574.1,105.7L576.7,104.9L579.2,104.1L581.8,103.4L584.3,102.8L586.9,102.3L589.5,101.9L592.0,101.6L594.6,101.3L597.2,101.1L599.8,101.0L602.4,101.0L605.0,101.0L607.6,101.2L610.2,101.3L612.8,101.6L615.4,101.9L618.1,102.2L620.7,102.6L623.3,103.0L625.9,103.5L628.5,104.1L631.1,104.6L633.7,105.2L636.3,105.9L638.9,106.5L641.5,107.2L644.1,107.9L646.7,108.6L649.3,109.3L651.9,110.1L654.5,110.8L657.0,111.6L659.6,112.4L662.2,113.1L664.7,113.9L667.3,114.7L669.8,115.5L672.4,116.3L674.9,117.1L677.4,117.9L680.0,118.7L682.5,119.5L685.0,120.3L687.6,121.2L690.1,122.0L692.6,122.8L695.1,123.6L697.6,124.5L700.1,125.3L702.7,126.2L705.2,127.0L707.7,127.9L710.2,128.7L712.7,129.6L715.2,130.4L717.7,131.3L720.2,132.1L722.7,133.0L725.2,133.9L727.7,134.7L730.2,135.6L732.7,136.4L735.2,137.3L737.8,138.2L740.3,139.0L742.8,139.9L745.3,140.7L747.8,141.6L750.3,142.4L752.8,143.3L755.4,144.1L757.9,145.0L760.4,145.8L762.9,146.7L765.5,147.5L768.0,148.3L770.6,149.1L773.1,150.0L775.6,150.8L778.2,151.6L780.7,152.4L783.3,153.2L785.9,153.9L788.4,154.7L791.0,155.5L793.6,156.2L796.1,156.9L798.7,157.7L801.3,158.4L803.9,159.0L806.4,159.7L809.0,160.4L811.6,161.0L814.2,161.6L816.8,162.2L819.4,162.8L822.0,163.3L824.6,163.9L827.2,164.4L829.8,164.9L832.5,165.3L835.1,165.8L837.7,166.2L840.3,166.6L842.9,166.9L845.6,167.2L848.2,167.5L850.8,167.8L853.5,168.1L856.1,168.3L858.8,168.5L861.4,168.7L864.1,168.9L866.7,169.0L869.4,169.2L872.0,169.3L874.7,169.4L877.3,169.5L880.0,169.6L882.6,169.6L885.3,169.7L888.0,169.7L890.6,169.8L893.3,169.8L896.0,169.8L898.6,169.8L901.3,169.8L904.0,169.8L906.6,169.8L909.3,169.8L912.0,169.8L914.6,169.8L917.3,169.8L919.9,169.9L922.6,169.9L925.3,169.9L927.9,169.9L930.6,169.9L933.3,169.9L935.9,169.9L938.6,169.9L941.2,169.9L943.9,169.9L946.6,170.0L949.2,170.0L951.9,170.0L954.6,170.0L957.2,170.0L959.9,170.0L962.5,170.1L965.2,170.1L967.9,170.1L970.5,170.1L973.2,170.1L975.8,170.2L978.5,170.2L981.2,170.2L983.8,170.2L986.5,170.3L989.2,170.3L991.8,170.3L994.5,170.3L997.1,170.3L999.8,170.4L1002.5,170.4L1005.1,170.4L1007.8,170.4L1010.4,170.5L1013.1,170.5L1015.8,170.5L1018.4,170.5L1021.1,170.6L1023.8,170.6L1026.4,170.6L1029.1,170.6L1031.7,170.7L1034.4,170.7L1037.1,170.7L1039.7,170.7L1042.4,170.7L1045.1,170.8L1047.7,170.8L1050.4,170.8L1053.0,170.8L1055.7,170.9L1058.4,170.9L1061.0,170.9L1063.7,170.9L1066.4,170.9L1069.0,171.0L1071.7,171.0L1074.3,171.0L1077.0,171.0L1079.7,171.0L1082.3,171.1L1085.0,171.1L1087.6,171.1L1090.3,171.1L1093.0,171.1L1095.6,171.1L1098.3,171.2L1101.0,171.2L1103.6,171.2L1106.3,171.2L1108.9,171.2L1111.6,171.2L1114.3,171.3L1116.9,171.3L1119.6,171.3L1122.3,171.3L1124.9,171.3L1127.6,171.3L1130.2,171.3L1132.9,171.3L1135.6,171.3L1138.2,171.4L1140.9,171.4L1143.6,171.4L1146.2,171.4L1148.9,171.4L1151.5,171.4L1154.2,171.4L1156.9,171.4L1159.5,171.4L1162.2,171.4L1164.9,171.4L1167.5,171.4L1170.2,171.4L1172.8,171.4L1175.5,171.4L1178.2,171.4L1180.8,171.4L1183.5,171.4L1186.2,171.4L1188.8,171.4L1191.5,171.5L1194.1,171.5L1196.8,171.5L1199.5,171.5L1202.1,171.5L1204.8,171.5L1207.4,171.5L1210.1,171.5L1212.8,171.5L1215.4,171.5L1218.1,171.5L1220.8,171.5L1223.4,171.5L1226.1,171.5L1228.7,171.5L1231.4,171.5L1234.1,171.4L1236.7,171.4L1239.4,171.4L1242.1,171.4L1244.7,171.4L1247.4,171.4L1250.0,171.4L1252.7,171.4L1255.4,171.4L1258.0,171.4L1260.7,171.4L1263.4,171.4L1266.0,171.4L1268.7,171.4L1271.3,171.4L1274.0,171.4L1276.7,171.4L1279.3,171.4L1282.0,171.4L1284.6,171.4L1287.3,171.4L1290.0,171.4L1292.6,171.4L1295.3,171.4L1298.0,171.4L1300.6,171.4L1303.3,171.4L1305.9,171.4L1308.6,171.4L1311.3,171.4L1313.9,171.4L1316.6,171.4L1319.3,171.4L1321.9,171.4L1324.6,171.4L1327.2,171.4L1329.9,171.4L1332.6,171.4L1335.2,171.4L1337.9,171.4L1340.6,171.4L1343.2,171.4L1345.9,171.4L1348.5,171.4L1351.2,171.4L1353.9,171.4L1356.5,171.4L1359.2,171.4L1361.9,171.4L1364.5,171.4L1367.2,171.4L1369.8,171.4L1372.5,171.4"/>
<path clip-path="url(#c8)" stroke="#E34A22" d="M278.6,752.2L280.5,744.4L281.1,742.0L281.7,739.5L282.3,737.1L282.9,734.6L283.5,732.2L284.1,729.7L284.7,727.3L285.3,724.8L285.9,722.4L286.5,719.9L287.1,717.5L287.7,715.0L288.3,712.6L288.9,710.1L289.5,707.7L290.1,705.2L290.7,702.8L291.3,700.3L291.9,697.9L292.5,695.4L293.1,693.0L293.7,690.5L294.3,688.1L294.9,685.7L295.5,683.2L296.1,680.8L296.7,678.3L297.3,675.9L298.0,673.4L298.6,671.0L299.2,668.5L299.8,666.1L300.4,663.6L301.0,661.2L301.6,658.7L302.2,656.3L302.8,653.9L303.5,651.4L304.1,649.0L304.7,646.5L305.3,644.1L305.9,641.6L306.6,639.2L307.2,636.8L307.8,634.3L308.4,631.9L309.0,629.4L309.7,627.0L310.3,624.5L310.9,622.1L311.5,619.7L312.2,617.2L312.8,614.8L313.4,612.3L314.1,609.9L314.7,607.5L315.3,605.0L316.0,602.6L316.6,600.2L317.3,597.7L317.9,595.3L318.5,592.8L319.2,590.4L319.8,588.0L320.5,585.5L321.1,583.1L321.8,580.7L322.4,578.2L323.1,575.8L323.7,573.4L324.4,570.9L325.0,568.5L325.7,566.1L326.4,563.6L327.0,561.2L327.7,558.8L328.3,556.4L329.0,553.9L329.7,551.5L330.3,549.1L331.0,546.6L331.7,544.2L332.4,541.8L333.0,539.4L333.7,536.9L334.4,534.5L335.1,532.1L335.8,529.7L336.4,527.2L337.1,524.8L337.8,522.4L338.5,520.0L339.2,517.5L339.9,515.1L340.6,512.7L341.3,510.3L342.0,507.9L342.7,505.5L343.4,503.0L344.1,500.6L344.8,498.2L345.5,495.8L346.3,493.4L347.0,491.0L347.7,488.5L348.4,486.1L349.1,483.7L349.9,481.3L350.6,478.9L351.3,476.5L352.1,474.1L352.8,471.7L353.5,469.3L354.3,466.9L355.0,464.4L355.8,462.0L356.5,459.6L357.3,457.2L358.0,454.8L358.8,452.4L359.5,450.0L360.3,447.6L361.1,445.2L361.8,442.8L362.6,440.4L363.4,438.0L364.1,435.6L364.9,433.2L365.7,430.8L366.5,428.4L367.3,426.0L368.1,423.6L368.8,421.3L369.6,418.9L370.4,416.5L371.2,414.1L372.0,411.7L372.8,409.3L373.6,406.9L374.5,404.5L375.3,402.1L376.1,399.8L376.9,397.4L377.7,395.0L378.6,392.6L379.4,390.2L380.2,387.9L381.1,385.5L381.9,383.1L382.7,380.7L383.6,378.3L384.4,376.0L385.3,373.6L386.1,371.2L387.0,368.9L387.9,366.5L388.7,364.1L389.6,361.7L390.5,359.4L391.3,357.0L392.2,354.6L393.1,352.3L394.0,349.9L394.9,347.5L395.8,345.2L396.7,342.8L397.6,340.5L398.5,338.1L399.4,335.7L400.3,333.4L401.2,331.0L402.1,328.7L403.0,326.3L404.0,324.0L404.9,321.6L405.8,319.3L406.8,316.9L407.7,314.6L408.7,312.2L409.6,309.9L410.6,307.6L411.6,305.2L412.5,302.9L413.5,300.6L414.6,298.3L415.6,296.0L416.6,293.7L417.7,291.4L418.8,289.2L419.9,286.9L421.0,284.7L422.2,282.4L423.4,280.2L424.6,278.0L425.8,275.9L427.0,273.7L428.3,271.6L429.6,269.5L431.0,267.4L432.4,265.3L433.8,263.2L435.2,261.1L436.6,259.1L438.0,257.0L439.5,255.0L440.9,253.0L442.4,250.9L443.9,248.9L445.3,246.8L446.7,244.8L448.2,242.7L449.6,240.6L451.0,238.5L452.3,236.4L453.7,234.2L455.0,232.1L456.4,229.9L457.7,227.8L459.0,225.6L460.3,223.4L461.6,221.2L462.9,219.1L464.2,216.9L465.5,214.7L466.8,212.6L468.1,210.4L469.5,208.3L470.8,206.1L472.2,204.0L473.6,201.9L475.0,199.8L476.4,197.8L477.9,195.8L479.3,193.7L480.9,191.8L482.4,189.8L484.0,187.9L485.6,186.0L487.3,184.2L489.0,182.4L490.7,180.6L492.5,178.8L494.3,177.1L496.1,175.4L498.0,173.7L499.9,172.1L501.8,170.4L503.7,168.8L505.7,167.3L507.7,165.7L509.7,164.2L511.7,162.7L513.8,161.2L515.8,159.7L517.9,158.3L520.0,156.9L522.1,155.5L524.3,154.1L526.4,152.7L528.6,151.4L530.7,150.0L532.9,148.7L535.1,147.4L537.3,146.1L539.5,144.8L541.7,143.6L543.9,142.3L546.1,141.1L548.3,139.8L550.6,138.6L552.8,137.5L555.0,136.3L557.3,135.2L559.6,134.2L561.8,133.2L564.1,132.2L566.4,131.3L568.7,130.5L571.1,129.7L573.4,129.0L575.8,128.4L578.1,127.8L580.5,127.4L583.0,127.0L585.4,126.7L587.8,126.5L590.3,126.4L592.8,126.4L595.3,126.5L597.8,126.6L600.4,126.7L602.9,126.9L605.5,127.2L608.0,127.4L610.5,127.6L613.1,127.9L615.6,128.1L618.2,128.3L620.7,128.6L623.2,128.8L625.8,129.1L628.3,129.4L630.8,129.6L633.4,129.9L635.9,130.2L638.4,130.5L640.9,130.8L643.4,131.1L646.0,131.4L648.5,131.7L651.0,132.0L653.5,132.4L656.0,132.7L658.5,133.1L661.0,133.5L663.5,133.8L666.0,134.2L668.5,134.6L670.9,135.1L673.4,135.5L675.9,135.9L678.4,136.4L680.8,136.9L683.3,137.4L685.7,137.9L688.2,138.4L690.6,139.0L693.1,139.5L695.5,140.1L697.9,140.7L700.4,141.3L702.8,141.9L705.2,142.6L707.6,143.2L710.0,143.9L712.4,144.6L714.8,145.3L717.2,145.9L719.6,146.6L722.0,147.3L724.5,148.0L726.9,148.6L729.3,149.3L731.7,149.9L734.2,150.5L736.6,151.1L739.0,151.7L741.5,152.3L743.9,152.8L746.4,153.4L748.9,153.9L751.3,154.5L753.8,155.0L756.3,155.5L758.7,156.0L761.2,156.5L763.7,157.0L766.2,157.5L768.6,158.0L771.1,158.5L773.6,159.0L776.1,159.5L778.6,160.0L781.1,160.4L783.5,160.9L786.0,161.3L788.5,161.8L791.0,162.2L793.5,162.6L796.0,163.0L798.5,163.4L801.0,163.8L803.5,164.2L805.9,164.6L808.4,164.9L810.9,165.3L813.4,165.6L815.9,166.0L818.4,166.3L820.9,166.6L823.4,166.9L825.9,167.2L828.4,167.5L830.9,167.7L833.4,168.0L835.9,168.3L838.4,168.5L840.9,168.8L843.5,169.0L846.0,169.2L848.5,169.5L851.0,169.7L853.5,169.9L856.0,170.1L858.5,170.3L861.0,170.4L863.5,170.6L866.0,170.8L868.5,171.0L871.1,171.1L873.6,171.3L876.1,171.4L878.6,171.5L881.1,171.7L883.6,171.8L886.1,171.9L888.7,172.0L891.2,172.1L893.7,172.3L896.2,172.4L898.7,172.4L901.2,172.5L903.8,172.6L906.3,172.7L908.8,172.8L911.3,172.8L913.8,172.9L916.3,173.0L918.9,173.0L921.4,173.1L923.9,173.1L926.4,173.2L928.9,173.2L931.5,173.3L934.0,173.3L936.5,173.3L939.0,173.4L941.6,173.4L944.1,173.4L946.6,173.4L949.1,173.4L951.6,173.5L954.2,173.5L956.7,173.5L959.2,173.5L961.7,173.5L964.2,173.5L966.8,173.5L969.3,173.5L971.8,173.5L974.3,173.5L976.9,173.5L979.4,173.5L981.9,173.5L984.4,173.5L986.9,173.5L989.5,173.5L992.0,173.5L994.5,173.5L997.0,173.5L999.5,173.5L1002.1,173.5L1004.6,173.4L1007.1,173.4L1009.6,173.4L1012.1,173.4L1014.7,173.4L1017.2,173.4L1019.7,173.4L1022.2,173.4L1024.7,173.3L1027.3,173.3L1029.8,173.3L1032.3,173.3L1034.8,173.3L1037.3,173.3L1039.9,173.2L1042.4,173.2L1044.9,173.2L1047.4,173.2L1049.9,173.2L1052.5,173.1L1055.0,173.1L1057.5,173.1L1060.0,173.1L1062.5,173.1L1065.1,173.0L1067.6,173.0L1070.1,173.0L1072.6,173.0L1075.1,172.9L1077.7,172.9L1080.2,172.9L1082.7,172.9L1085.2,172.8L1087.7,172.8L1090.3,172.8L1092.8,172.8L1095.3,172.7L1097.8,172.7L1100.3,172.7L1102.9,172.6L1105.4,172.6L1107.9,172.6L1110.4,172.6L1112.9,172.5L1115.5,172.5L1118.0,172.5L1120.5,172.4L1123.0,172.4L1125.5,172.4L1128.1,172.4L1130.6,172.3L1133.1,172.3L1135.6,172.3L1138.1,172.2L1140.7,172.2L1143.2,172.2L1145.7,172.1L1148.2,172.1L1150.7,172.1L1153.3,172.1L1155.8,172.0L1158.3,172.0L1160.8,172.0L1163.3,171.9L1165.9,171.9L1168.4,171.9L1170.9,171.8L1173.4,171.8L1175.9,171.8L1178.5,171.7L1181.0,171.7L1183.5,171.7L1186.0,171.6L1188.5,171.6L1191.1,171.6L1193.6,171.5L1196.1,171.5L1198.6,171.5L1201.1,171.5L1203.7,171.4L1206.2,171.4L1208.7,171.4L1211.2,171.3L1213.7,171.3L1216.3,171.3L1218.8,171.2L1221.3,171.2L1223.8,171.2L1226.3,171.1L1228.9,171.1L1231.4,171.1L1233.9,171.0L1236.4,171.0L1238.9,171.0L1241.5,170.9L1244.0,170.9L1246.5,170.9L1249.0,170.8L1251.5,170.8L1254.1,170.8L1256.6,170.7L1259.1,170.7L1261.6,170.7L1264.1,170.6L1266.7,170.6L1269.2,170.6L1271.7,170.5L1274.2,170.5L1276.7,170.5L1279.3,170.4L1281.8,170.4L1284.3,170.4L1286.8,170.3L1289.3,170.3L1291.9,170.3L1294.4,170.2L1296.9,170.2L1299.4,170.2L1301.9,170.2L1304.5,170.1L1307.0,170.1L1309.5,170.1L1312.0,170.0L1314.5,170.0L1317.1,170.0L1319.6,169.9L1322.1,169.9L1324.6,169.9L1327.1,169.8L1329.7,169.8L1332.2,169.8L1334.7,169.7L1337.2,169.7L1339.7,169.7L1342.3,169.6L1344.8,169.6L1347.3,169.6L1349.8,169.6L1352.3,169.5L1354.9,169.5L1357.4,169.5L1359.9,169.4L1362.4,169.4L1364.9,169.4L1367.5,169.3L1370.0,169.3L1372.5,169.3"/>
<path clip-path="url(#c9)" stroke="#E674A7" d="M278.1,833.9L280.5,826.3L281.3,823.6L282.1,821.0L283.0,818.4L283.8,815.7L284.6,813.1L285.4,810.5L286.1,807.8L286.9,805.2L287.7,802.5L288.4,799.9L289.2,797.2L289.9,794.6L290.7,792.0L291.4,789.3L292.1,786.6L292.8,784.0L293.5,781.3L294.2,778.7L294.9,776.0L295.6,773.4L296.3,770.7L297.0,768.0L297.7,765.4L298.4,762.7L299.0,760.0L299.7,757.4L300.3,754.7L301.0,752.0L301.6,749.4L302.3,746.7L302.9,744.0L303.5,741.3L304.2,738.7L304.8,736.0L305.4,733.3L306.0,730.6L306.7,727.9L307.3,725.3L307.9,722.6L308.5,719.9L309.1,717.2L309.7,714.5L310.3,711.9L310.9,709.2L311.5,706.5L312.0,703.8L312.6,701.1L313.2,698.4L313.8,695.7L314.4,693.0L315.0,690.4L315.5,687.7L316.1,685.0L316.7,682.3L317.3,679.6L317.8,676.9L318.4,674.2L319.0,671.5L319.6,668.8L320.1,666.2L320.7,663.5L321.3,660.8L321.8,658.1L322.4,655.4L323.0,652.7L323.6,650.0L324.1,647.3L324.7,644.6L325.3,642.0L325.9,639.3L326.5,636.6L327.0,633.9L327.6,631.2L328.2,628.5L328.8,625.8L329.4,623.1L330.0,620.5L330.6,617.8L331.1,615.1L331.7,612.4L332.3,609.7L332.9,607.0L333.5,604.3L334.2,601.7L334.8,599.0L335.4,596.3L336.0,593.6L336.6,590.9L337.2,588.3L337.8,585.6L338.5,582.9L339.1,580.2L339.7,577.6L340.3,574.9L341.0,572.2L341.6,569.5L342.2,566.8L342.9,564.2L343.5,561.5L344.2,558.8L344.8,556.2L345.5,553.5L346.1,550.8L346.8,548.1L347.4,545.5L348.1,542.8L348.8,540.1L349.4,537.5L350.1,534.8L350.8,532.1L351.4,529.5L352.1,526.8L352.8,524.1L353.5,521.5L354.1,518.8L354.8,516.2L355.5,513.5L356.2,510.8L356.9,508.2L357.6,505.5L358.3,502.8L359.0,500.2L359.7,497.5L360.4,494.9L361.1,492.2L361.8,489.6L362.6,486.9L363.3,484.3L364.0,481.6L364.7,478.9L365.4,476.3L366.2,473.6L366.9,471.0L367.6,468.3L368.4,465.7L369.1,463.0L369.9,460.4L370.6,457.8L371.4,455.1L372.1,452.5L372.9,449.8L373.6,447.2L374.4,444.5L375.2,441.9L375.9,439.2L376.7,436.6L377.5,434.0L378.2,431.3L379.0,428.7L379.8,426.0L380.6,423.4L381.4,420.8L382.2,418.1L383.0,415.5L383.8,412.9L384.5,410.2L385.4,407.6L386.2,405.0L387.0,402.3L387.8,399.7L388.6,397.1L389.4,394.5L390.2,391.8L391.1,389.2L391.9,386.6L392.7,384.0L393.5,381.3L394.4,378.7L395.2,376.1L396.1,373.5L396.9,370.8L397.8,368.2L398.6,365.6L399.5,363.0L400.3,360.4L401.2,357.8L402.1,355.1L402.9,352.5L403.8,349.9L404.7,347.3L405.6,344.7L406.4,342.1L407.3,339.5L408.2,336.9L409.1,334.3L410.0,331.7L410.9,329.1L411.8,326.5L412.7,323.9L413.6,321.3L414.6,318.7L415.5,316.1L416.4,313.5L417.4,310.9L418.3,308.3L419.2,305.7L420.2,303.1L421.1,300.6L422.1,298.0L423.0,295.4L424.0,292.8L425.0,290.2L425.9,287.7L426.9,285.1L427.9,282.5L428.9,280.0L429.9,277.4L430.9,274.8L431.9,272.3L432.9,269.7L433.9,267.2L434.9,264.6L435.9,262.0L436.9,259.5L438.0,256.9L439.0,254.4L440.0,251.9L441.1,249.3L442.1,246.8L443.2,244.2L444.2,241.7L445.3,239.2L446.4,236.6L447.4,234.1L448.5,231.6L449.6,229.1L450.7,226.6L451.8,224.0L452.9,221.5L454.0,219.0L455.1,216.5L456.3,214.0L457.4,211.5L458.5,209.0L459.7,206.5L460.8,204.0L461.9,201.5L463.1,199.0L464.3,196.6L465.4,194.1L466.6,191.6L467.8,189.1L469.0,186.6L470.2,184.2L471.4,181.7L472.6,179.3L473.8,176.8L475.0,174.4L476.3,171.9L477.5,169.5L478.8,167.0L480.1,164.6L481.4,162.2L482.7,159.8L484.0,157.4L485.3,155.0L486.7,152.6L488.1,150.3L489.4,147.9L490.9,145.5L492.3,143.2L493.7,140.9L495.2,138.6L496.7,136.2L498.2,133.9L499.7,131.7L501.3,129.4L502.9,127.1L504.5,124.9L506.1,122.7L507.8,120.5L509.5,118.3L511.2,116.1L512.9,113.9L514.7,111.8L516.5,109.7L518.3,107.6L520.2,105.5L522.0,103.4L524.0,101.4L525.9,99.4L527.9,97.4L529.9,95.5L531.9,93.6L534.0,91.7L536.1,89.9L538.2,88.1L540.3,86.4L542.5,84.6L544.7,83.0L546.9,81.4L549.2,79.8L551.5,78.2L553.8,76.8L556.2,75.4L558.6,74.0L561.0,72.7L563.4,71.5L565.9,70.4L568.4,69.3L570.9,68.3L573.5,67.4L576.0,66.6L578.6,65.8L581.2,65.1L583.9,64.5L586.5,64.0L589.2,63.5L591.8,63.2L594.5,62.9L597.2,62.6L599.9,62.5L602.6,62.4L605.3,62.4L608.0,62.5L610.7,62.7L613.4,63.0L616.1,63.3L618.8,63.7L621.5,64.1L624.2,64.6L626.9,65.2L629.6,65.8L632.3,66.5L635.0,67.2L637.7,68.0L640.3,68.8L643.0,69.6L645.7,70.5L648.3,71.3L651.0,72.2L653.6,73.1L656.2,74.1L658.8,75.0L661.4,76.0L664.0,77.0L666.6,77.9L669.1,78.9L671.7,79.9L674.3,81.0L676.8,82.0L679.4,83.0L681.9,84.1L684.4,85.1L686.9,86.2L689.5,87.3L692.0,88.3L694.5,89.4L697.0,90.5L699.5,91.6L702.0,92.7L704.5,93.8L707.0,95.0L709.5,96.1L712.0,97.2L714.5,98.3L716.9,99.5L719.4,100.6L721.9,101.7L724.4,102.9L726.9,104.0L729.4,105.1L731.9,106.3L734.4,107.4L736.9,108.5L739.4,109.7L741.9,110.8L744.4,111.9L746.9,113.0L749.5,114.1L752.0,115.3L754.5,116.4L757.0,117.5L759.6,118.6L762.1,119.6L764.6,120.7L767.2,121.8L769.7,122.9L772.3,123.9L774.8,125.0L777.4,126.0L779.9,127.1L782.5,128.1L785.0,129.1L787.6,130.1L790.2,131.1L792.8,132.0L795.3,133.0L797.9,134.0L800.5,134.9L803.1,135.8L805.7,136.7L808.3,137.6L810.9,138.5L813.5,139.3L816.1,140.2L818.8,141.0L821.4,141.8L824.0,142.6L826.7,143.4L829.3,144.1L831.9,144.9L834.6,145.6L837.2,146.3L839.9,146.9L842.6,147.6L845.2,148.2L847.9,148.8L850.6,149.4L853.3,150.0L856.0,150.5L858.7,151.1L861.4,151.6L864.1,152.1L866.8,152.5L869.5,153.0L872.2,153.4L874.9,153.9L877.7,154.3L880.4,154.7L883.1,155.0L885.8,155.4L888.6,155.8L891.3,156.1L894.0,156.4L896.8,156.7L899.5,157.0L902.2,157.3L905.0,157.6L907.7,157.9L910.5,158.1L913.2,158.4L916.0,158.6L918.7,158.8L921.4,159.0L924.2,159.3L926.9,159.5L929.7,159.6L932.4,159.8L935.2,160.0L937.9,160.2L940.7,160.3L943.4,160.5L946.2,160.6L948.9,160.8L951.6,160.9L954.4,161.0L957.1,161.1L959.9,161.3L962.6,161.4L965.4,161.5L968.1,161.6L970.9,161.6L973.6,161.7L976.4,161.8L979.1,161.9L981.9,161.9L984.6,162.0L987.4,162.0L990.1,162.1L992.9,162.1L995.6,162.2L998.4,162.2L1001.1,162.2L1003.9,162.3L1006.6,162.3L1009.4,162.3L1012.1,162.3L1014.9,162.4L1017.6,162.4L1020.4,162.4L1023.1,162.4L1025.9,162.4L1028.6,162.4L1031.4,162.4L1034.1,162.4L1036.9,162.4L1039.6,162.4L1042.4,162.4L1045.1,162.4L1047.9,162.4L1050.6,162.4L1053.4,162.3L1056.1,162.3L1058.9,162.3L1061.6,162.3L1064.4,162.3L1067.1,162.3L1069.9,162.3L1072.6,162.3L1075.4,162.3L1078.2,162.2L1080.9,162.2L1083.7,162.2L1086.4,162.2L1089.2,162.2L1091.9,162.2L1094.7,162.2L1097.4,162.2L1100.2,162.2L1102.9,162.2L1105.7,162.1L1108.4,162.1L1111.2,162.1L1113.9,162.1L1116.7,162.1L1119.4,162.1L1122.2,162.1L1124.9,162.1L1127.7,162.1L1130.4,162.1L1133.2,162.1L1135.9,162.1L1138.7,162.1L1141.4,162.1L1144.2,162.1L1146.9,162.1L1149.7,162.0L1152.4,162.0L1155.2,162.0L1157.9,162.0L1160.7,162.0L1163.4,162.0L1166.2,162.0L1168.9,162.0L1171.7,162.0L1174.4,162.0L1177.2,162.0L1179.9,162.0L1182.7,162.0L1185.4,162.0L1188.2,162.0L1190.9,162.0L1193.7,162.0L1196.4,162.0L1199.2,162.0L1201.9,162.0L1204.7,162.0L1207.4,162.0L1210.2,162.0L1212.9,162.0L1215.7,162.0L1218.4,162.0L1221.2,162.0L1224.0,161.9L1226.7,161.9L1229.5,161.9L1232.2,161.9L1235.0,161.9L1237.7,161.9L1240.5,161.9L1243.2,161.9L1246.0,161.9L1248.7,161.9L1251.5,161.9L1254.2,161.9L1257.0,161.9L1259.7,161.9L1262.5,161.9L1265.2,161.9L1268.0,161.9L1270.7,161.9L1273.5,161.9L1276.2,161.9L1279.0,161.9L1281.7,161.9L1284.5,161.9L1287.2,161.9L1290.0,161.9L1292.7,161.9L1295.5,161.9L1298.2,161.9L1301.0,161.9L1303.7,161.9L1306.5,161.9L1309.2,161.9L1312.0,161.9L1314.7,161.9L1317.5,161.9L1320.2,161.9L1323.0,161.9L1325.7,161.9L1328.5,161.9L1331.2,161.9L1334.0,161.8L1336.7,161.8L1339.5,161.8L1342.2,161.8L1345.0,161.8L1347.7,161.8L1350.5,161.8L1353.2,161.8L1356.0,161.8L1358.7,161.8L1361.5,161.8L1364.2,161.8L1367.0,161.8L1369.7,161.8L1372.5,161.8"/>
</g>
<g stroke="#000" fill="none" stroke-linecap="butt">
<path stroke-width="4.6" d="M268,32V982.1M265.7,979.8H1374.9"/>
<path stroke-width="4.6" d="M229.5,165H268"/>
<path stroke-width="4.6" d="M229.5,432.5H268"/>
<path stroke-width="4.6" d="M229.5,700H268"/>
<path stroke-width="4.6" d="M229.5,967.5H268"/>
<path stroke-width="4.6" d="M280.5,978V1018.6"/>
<path stroke-width="4.6" d="M498.8,978V1018.6"/>
<path stroke-width="4.6" d="M717.3,978V1018.6"/>
<path stroke-width="4.6" d="M936,978V1018.6"/>
<path stroke-width="4.6" d="M1154,978V1018.6"/>
<path stroke-width="4.6" d="M1372.6,978V1018.6"/>
</g>
<g font-size="54.5" fill="#000">
<text x="0" y="0" text-anchor="middle" transform="translate(497.8,1083.7) scale(0.955,1)">220</text>
<text x="0" y="0" text-anchor="middle" transform="translate(716.3,1083.7) scale(0.955,1)">230</text>
<text x="0" y="0" text-anchor="middle" transform="translate(935.0,1083.7) scale(0.955,1)">240</text>
<text x="0" y="0" text-anchor="middle" transform="translate(1153.0,1083.7) scale(0.955,1)">250</text>
<text x="0" y="0" text-anchor="middle" transform="translate(1371.6,1083.7) scale(0.955,1)">260</text>
<text x="0" y="0" font-size="54.5" transform="translate(236.60,1083.70) scale(0.968,1)">2</text>
<path d="M281.20,1046.10L285.60,1046.10L285.60,1083.70L281.20,1083.70L281.20,1051.50L271.00,1059.10L271.00,1053.70Z"/>
<text x="0" y="0" font-size="54.5" transform="translate(294.12,1083.70) scale(0.942,1)">0</text>
<text x="0" y="0" font-size="54.5" transform="translate(184.19,182.20) scale(0.904,1)">0</text>
<rect x="168.00" y="435.20" width="14.60" height="4.20"/>
<text x="0" y="0" font-size="54.5" transform="translate(185.38,450.60) scale(0.862,1)">5</text>
<rect x="138.80" y="702.80" width="15.80" height="4.20"/>
<path d="M170.30,680.60L174.70,680.60L174.70,718.20L170.30,718.20L170.30,686.00L160.10,693.60L160.10,688.20Z"/>
<text x="0" y="0" font-size="54.5" transform="translate(184.32,718.20) scale(0.892,1)">0</text>
<rect x="138.20" y="970.10" width="16.80" height="4.20"/>
<path d="M170.40,947.90L174.80,947.90L174.80,985.50L170.40,985.50L170.40,953.30L160.20,960.90L160.20,955.50Z"/>
<text x="0" y="0" font-size="54.5" transform="translate(184.25,985.50) scale(0.973,1)">5</text>
</g>
<text x="826" y="1156" font-size="51.5" font-weight="bold" text-anchor="middle">Wavelength (nm)</text>
<g transform="translate(78,844) rotate(-90)" font-weight="bold">
<text x="-3" y="0" font-size="51">MRE</text>
<text x="124" y="0" font-size="51">(</text>
<text x="211.9" y="-35.3" font-size="37">3</text>
<text x="247" y="0" font-size="51">degcm</text>
<text x="410.7" y="-35.3" font-size="37">2</text>
<text x="431" y="0" font-size="51">dmol.res</text>
<text x="643" y="-35.3" font-size="37">-</text>
<text x="676" y="0" font-size="51">)</text>
<text x="0" y="0" font-size="51" font-weight="bold" transform="translate(184.37,0.00) scale(0.967,1)">0</text>
<path d="M168.00,-37.10L175.80,-37.10L175.80,0.00L168.00,0.00L168.00,-29.10L160.20,-22.10L160.20,-30.10Z"/>
<path d="M663.40,-63.40L668.00,-63.40L668.00,-35.00L663.40,-35.00L663.40,-54.90L657.20,-50.30L657.20,-58.80Z"/>
</g>
<rect x="532.5" y="16" width="184" height="161.5" fill="none" stroke="#000" stroke-width="3" stroke-dasharray="3 12.43"/>
<g fill="#000">
<rect x="529.2" y="169.6" width="8" height="8" transform="rotate(84.4 533.2 173.6)"/><rect x="533.2" y="210.5" width="8" height="8" transform="rotate(84.4 537.2 214.5)"/><rect x="537.2" y="251.3" width="8" height="8" transform="rotate(84.4 541.2 255.3)"/><rect x="541.2" y="292.2" width="8" height="8" transform="rotate(84.4 545.2 296.2)"/><rect x="545.2" y="333.1" width="8" height="8" transform="rotate(84.4 549.2 337.1)"/><rect x="549.2" y="374.0" width="8" height="8" transform="rotate(84.4 553.2 378.0)"/><rect x="553.2" y="414.8" width="8" height="8" transform="rotate(84.4 557.2 418.8)"/><rect x="557.2" y="455.7" width="8" height="8" transform="rotate(84.4 561.2 459.7)"/>
<rect x="715.5" y="169.7" width="8" height="8" transform="rotate(56.2 719.5 173.7)"/><rect x="738.3" y="203.7" width="8" height="8" transform="rotate(56.2 742.3 207.7)"/><rect x="761.1" y="237.8" width="8" height="8" transform="rotate(56.2 765.1 241.8)"/><rect x="783.9" y="271.8" width="8" height="8" transform="rotate(56.2 787.9 275.8)"/><rect x="806.6" y="305.9" width="8" height="8" transform="rotate(56.2 810.6 309.9)"/><rect x="829.4" y="339.9" width="8" height="8" transform="rotate(56.2 833.4 343.9)"/><rect x="852.2" y="374.0" width="8" height="8" transform="rotate(56.2 856.2 378.0)"/><rect x="875.0" y="408.0" width="8" height="8" transform="rotate(56.2 879.0 412.0)"/>
</g>
<path d="M896,447L903,440" stroke="#000" stroke-width="3"/>
<g clip-path="url(#ic)" fill="none" stroke-width="28" stroke-linejoin="miter" stroke-linecap="butt">
<path stroke="#73FCFA" d="M543.6,598.8L563.6,587.5L631.7,549.0L695.2,517.0L761.7,514.4L822.2,524.0L890.3,552.0L910.3,560.2"/>
<path stroke="#EE9A22" d="M543.6,577.3L563.6,561.6L631.7,508.0L695.2,485.5L761.7,484.5L822.2,495.5L890.3,524.5L910.3,533.0"/>
<path stroke="#E02327" d="M543.6,612.5L563.6,601.0L631.7,562.0L695.2,537.5L761.7,535.0L822.2,543.0L890.3,569.5L910.3,577.3"/>
<path stroke="#0026FF" d="M543.6,703.3L563.6,690.5L631.7,647.0L695.2,622.0L761.7,620.3L822.2,630.0L890.3,643.6L910.3,647.6"/>
<path stroke="#FFF824" d="M543.6,756.8L563.6,748.0L631.7,718.0L695.2,706.0L761.7,703.5L822.2,707.0L890.3,720.0L910.3,723.8"/>
<path stroke="#424242" d="M543.6,747.5L563.6,735.8L631.7,696.0L695.2,675.5L761.7,673.5L822.2,680.0L890.3,694.5L910.3,698.8"/>
<path stroke="#000000" d="M543.6,669.3L563.6,654.5L631.7,604.0L695.2,574.0L761.7,574.0L822.2,581.0L890.3,596.0L910.3,600.4"/>
<path stroke="#C8F86E" d="M543.6,711.5L563.6,700.0L631.7,661.0L695.2,637.0L761.7,637.0L822.2,645.0L890.3,663.5L910.3,668.9"/>
<path stroke="#E34A22" d="M543.6,760.2L563.6,751.5L631.7,722.0L695.2,710.0L761.7,707.5L822.2,711.0L890.3,724.5L910.3,728.5"/>
<path stroke="#E674A7" d="M543.6,612.7L563.6,601.0L631.7,561.0L695.2,534.5L761.7,532.0L822.2,540.0L890.3,567.0L910.3,574.9"/>
</g>
<rect x="561.5" y="446" width="332" height="342" fill="none" stroke="#000" stroke-width="3.5"/>
<g>
<rect x="990" y="334.3" width="93" height="11" fill="#000000"/>
<text x="0" y="0" font-size="55" transform="translate(1123.50,339.1) scale(0.900,1)">3</text>
<text x="0" y="0" font-size="55" transform="translate(1153.90,339.1) scale(0.925,1)">A</text>
<rect x="990" y="390.3" width="93" height="11" fill="#E34A22"/>
<text x="0" y="0" font-size="55" transform="translate(1123.50,396.1) scale(0.900,1)">3</text>
<text x="0" y="0" font-size="55" transform="translate(1154.59,396.1) scale(0.877,1)">B</text>
<rect x="990" y="447.1" width="93" height="11" fill="#E674A7"/>
<text x="0" y="0" font-size="55" transform="translate(1123.50,457.4) scale(0.900,1)">3</text>
<text x="0" y="0" font-size="55" transform="translate(1153.71,457.4) scale(0.829,1)">C</text>
<rect x="990" y="503.8" width="93" height="11" fill="#E02327"/>
<text x="0" y="0" font-size="55" transform="translate(1123.00,514.2) scale(0.911,1)">A</text>
<text x="0" y="0" font-size="55" transform="translate(1160.06,514.2) scale(0.810,1)">B</text>
<text x="0" y="0" font-size="55" transform="translate(1192.26,514.2) scale(0.812,1)">C</text>
<rect x="990" y="560.6" width="93" height="11" fill="#0026FF"/>
<text x="0" y="0" font-size="55" transform="translate(1122.49,576.1) scale(0.936,1)">2</text>
<text x="0" y="0" font-size="55" transform="translate(1154.40,576.1) scale(0.897,1)">A</text>
<text x="0" y="0" font-size="55" transform="translate(1186.60,576.1) scale(1.420,1)">:</text>
<text x="0" y="0" font-size="55" transform="translate(1207.67,576.1) scale(0.857,1)">B</text>
<rect x="990" y="616.8" width="93" height="11" fill="#73FCFA"/>
<text x="0" y="0" font-size="55" transform="translate(1122.49,631.1) scale(0.936,1)">2</text>
<text x="0" y="0" font-size="55" transform="translate(1154.40,631.1) scale(0.897,1)">A</text>
<text x="0" y="0" font-size="55" transform="translate(1186.60,631.1) scale(1.420,1)">:</text>
<text x="0" y="0" font-size="55" transform="translate(1206.18,631.1) scale(0.841,1)">C</text>
<rect x="990" y="673.1" width="93" height="11" fill="#FFF824"/>
<text x="0" y="0" font-size="55" transform="translate(1123.00,692.0) scale(0.911,1)">A</text>
<text x="0" y="0" font-size="55" transform="translate(1155.80,692.0) scale(1.400,1)">:</text>
<text x="0" y="0" font-size="55" transform="translate(1174.48,692.0) scale(0.940,1)">2</text>
<text x="0" y="0" font-size="55" transform="translate(1207.73,692.0) scale(0.843,1)">B</text>
<rect x="990" y="729.5" width="93" height="11" fill="#424242"/>
<text x="0" y="0" font-size="55" transform="translate(1122.49,748.1) scale(0.936,1)">2</text>
<text x="0" y="0" font-size="55" transform="translate(1154.66,748.1) scale(0.860,1)">B</text>
<text x="0" y="0" font-size="55" transform="translate(1185.40,748.1) scale(1.300,1)">:</text>
<text x="0" y="0" font-size="55" transform="translate(1203.88,748.1) scale(0.841,1)">C</text>
<rect x="990" y="786.3" width="93" height="11" fill="#EE9A22"/>
<text x="0" y="0" font-size="55" transform="translate(1123.00,809.1) scale(0.911,1)">A</text>
<text x="0" y="0" font-size="55" transform="translate(1155.80,809.1) scale(1.400,1)">:</text>
<text x="0" y="0" font-size="55" transform="translate(1174.48,809.1) scale(0.940,1)">2</text>
<text x="0" y="0" font-size="55" transform="translate(1205.79,809.1) scale(0.838,1)">C</text>
<rect x="990" y="842.3" width="93" height="11" fill="#C8F86E"/>
<text x="0" y="0" font-size="55" transform="translate(1123.83,866.0) scale(0.843,1)">B</text>
<text x="0" y="0" font-size="55" transform="translate(1153.80,866.0) scale(1.420,1)">:</text>
<text x="0" y="0" font-size="55" transform="translate(1172.13,866.0) scale(0.956,1)">2</text>
<text x="0" y="0" font-size="55" transform="translate(1203.88,866.0) scale(0.841,1)">C</text>
</g>
</g></svg></body></html>
